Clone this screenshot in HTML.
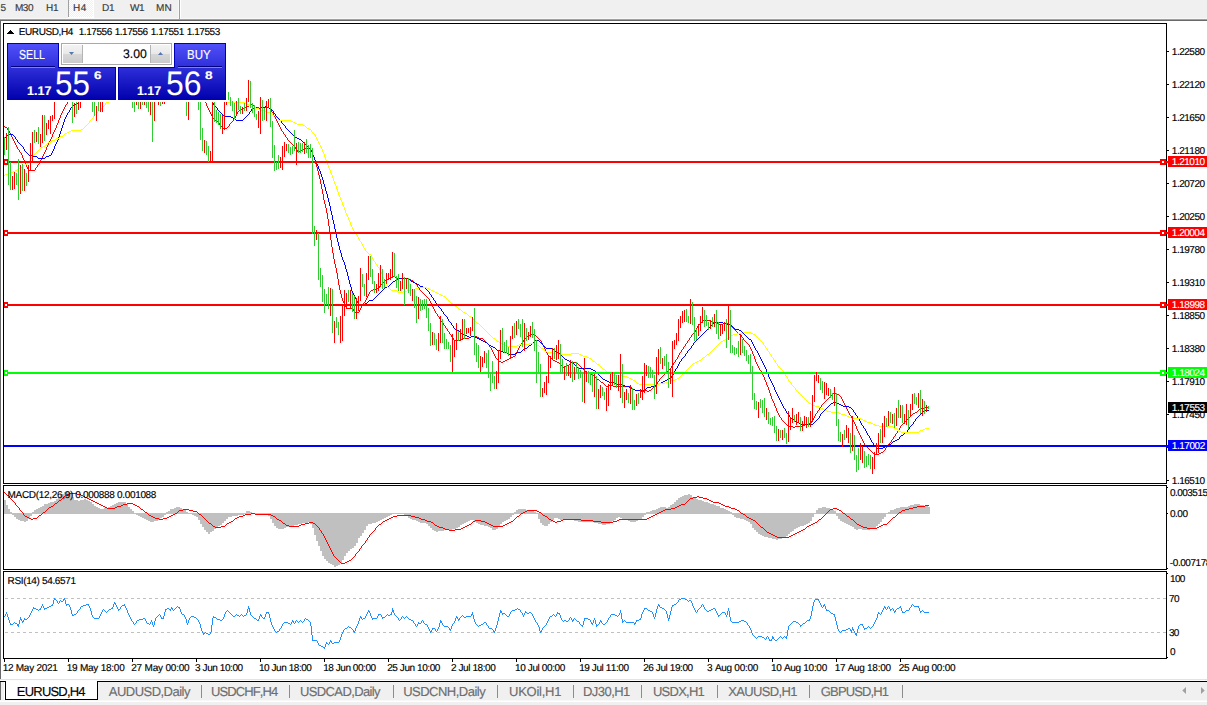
<!DOCTYPE html><html><head><meta charset="utf-8"><title>EURUSD,H4</title><style>
html,body{margin:0;padding:0;background:#fff;overflow:hidden;}
body{width:1207px;height:705px;overflow:hidden;position:relative;font-family:"Liberation Sans", sans-serif;text-rendering:geometricPrecision;font-kerning:none;}
.a{position:absolute;white-space:nowrap;}
.t{position:absolute;white-space:nowrap;transform-origin:0 0;}
</style></head><body>
<div class="a" style="left:0;top:0;width:1207px;height:18px;background:#f0f0f0;"></div>
<div class="a" style="left:0;top:18px;width:1207px;height:1px;background:#f8f8f8;"></div>
<div class="a" style="left:0;top:19px;width:1207px;height:1px;background:#a0a0a0;"></div>
<div class="a" style="left:0;top:20px;width:1207px;height:1px;background:#696969;"></div>
<div class="a" style="left:0;top:21px;width:1px;height:658px;background:#696969;"></div>
<div class="a" style="left:69px;top:0;width:24px;height:17px;background:repeating-conic-gradient(#ffffff 0% 25%,#f0f0f0 0% 50%) 0 0/2px 2px;"></div>
<div class="a" style="left:93px;top:0;width:1px;height:18px;background:#ffffff;"></div>
<div class="a" style="left:68px;top:17px;width:26px;height:1px;background:#ffffff;"></div>
<div class="a" style="left:68px;top:0;width:1px;height:17px;background:#a0a0a0;"></div>
<div class="a" style="left:178px;top:0;width:1px;height:18px;background:#f8f8f8;"></div>
<div class="a" style="left:179px;top:0;width:1px;height:19px;background:#a0a0a0;"></div>
<div class="a" style="left:180px;top:0;width:1px;height:18px;background:#ffffff;"></div>
<div class="t" style="left:0.40px;top:1.53px;font-size:10px;line-height:14px;color:#383838;-webkit-text-stroke:0.15px;letter-spacing:0.000px;">5</div>
<div class="t" style="left:14.88px;top:1.53px;font-size:10px;line-height:14px;color:#383838;-webkit-text-stroke:0.15px;letter-spacing:-0.371px;">M30</div>
<div class="t" style="left:45.98px;top:1.53px;font-size:10px;line-height:14px;color:#383838;-webkit-text-stroke:0.15px;letter-spacing:-0.075px;">H1</div>
<div class="t" style="left:73.08px;top:1.53px;font-size:10px;line-height:14px;color:#383838;-webkit-text-stroke:0.15px;letter-spacing:0.430px;">H4</div>
<div class="t" style="left:101.88px;top:1.53px;font-size:10px;line-height:14px;color:#383838;-webkit-text-stroke:0.15px;letter-spacing:0.025px;">D1</div>
<div class="t" style="left:129.96px;top:1.53px;font-size:10px;line-height:14px;color:#383838;-webkit-text-stroke:0.15px;letter-spacing:-0.468px;">W1</div>
<div class="t" style="left:156.08px;top:1.53px;font-size:10px;line-height:14px;color:#383838;-webkit-text-stroke:0.15px;letter-spacing:-0.016px;">MN</div>
<svg class="a" style="left:0;top:0;" width="1207" height="705" viewBox="0 0 1207 705" shape-rendering="crispEdges">
<path d="M157 80h10v1h-10zM149 81h8v1h-8zM167 81h16v1h-16zM141 82h8v1h-8zM183 82h8v1h-8zM133 83h8v1h-8zM191 83h1v1h-1zM123 84h10v1h-10zM192 84h1v1h-1zM107 85h16v1h-16zM193 85h1v1h-1zM95 86h12v1h-12zM194 86h1v1h-1zM85 87h10v1h-10zM195 87h1v1h-1zM80 88h5v1h-5zM196 88h1v1h-1zM79 89h1v1h-1zM197 89h1v1h-1zM77 90h2v1h-2zM198 90h1v1h-1zM76 91h1v1h-1zM199 91h1v1h-1zM75 92h1v1h-1zM200 92h1v1h-1zM73 93h2v1h-2zM201 93h1v2h-1zM72 94h1v1h-1zM71 95h1v1h-1zM202 95h1v2h-1zM70 96h1v2h-1zM203 97h1v2h-1zM69 98h1v2h-1zM204 99h1v2h-1zM68 100h1v2h-1zM205 101h1v2h-1zM67 102h1v2h-1zM206 103h1v3h-1zM66 104h1v1h-1zM250 104h3v1h-3zM249 105h1v1h-1zM253 105h1v1h-1zM65 105h1v2h-1zM247 106h2v1h-2zM254 106h1v1h-1zM207 106h1v2h-1zM245 107h2v1h-2zM255 107h4v1h-4zM261 107h8v1h-8zM64 107h1v2h-1zM243 108h2v1h-2zM259 108h2v1h-2zM269 108h1v1h-1zM208 108h1v2h-1zM241 109h2v1h-2zM270 109h1v1h-1zM63 109h1v2h-1zM239 110h2v1h-2zM209 110h1v2h-1zM271 110h1v2h-1zM238 111h1v1h-1zM62 111h1v2h-1zM272 112h1v1h-1zM210 112h1v2h-1zM237 112h1v2h-1zM61 113h1v2h-1zM273 113h1v2h-1zM211 114h1v2h-1zM236 114h1v2h-1zM274 115h1v2h-1zM60 115h1v3h-1zM212 116h1v2h-1zM235 116h1v2h-1zM275 117h1v2h-1zM213 118h1v1h-1zM234 118h1v1h-1zM59 118h1v2h-1zM214 119h1v1h-1zM233 119h1v2h-1zM276 119h1v2h-1zM215 120h2v1h-2zM58 120h1v3h-1zM217 121h1v1h-1zM232 121h1v1h-1zM277 121h1v2h-1zM218 122h1v1h-1zM231 122h1v1h-1zM230 123h1v1h-1zM57 123h1v2h-1zM219 123h1v2h-1zM278 123h1v2h-1zM229 124h1v2h-1zM220 125h1v1h-1zM279 125h1v2h-1zM56 125h1v3h-1zM4 126h1v1h-1zM221 126h1v1h-1zM228 126h1v1h-1zM5 127h2v1h-2zM222 127h1v1h-1zM227 127h1v1h-1zM280 127h1v2h-1zM223 128h4v1h-4zM7 128h1v2h-1zM55 128h1v2h-1zM281 129h1v2h-1zM8 130h1v1h-1zM54 130h1v2h-1zM282 131h1v1h-1zM9 131h1v2h-1zM53 132h1v2h-1zM283 132h1v2h-1zM10 133h1v2h-1zM284 134h1v1h-1zM52 134h1v3h-1zM11 135h1v2h-1zM285 135h1v2h-1zM286 137h1v1h-1zM12 137h1v2h-1zM51 137h1v2h-1zM287 138h1v2h-1zM13 139h1v2h-1zM50 139h1v2h-1zM288 140h1v1h-1zM289 141h1v1h-1zM14 141h1v2h-1zM49 141h1v2h-1zM290 142h1v1h-1zM291 143h1v1h-1zM15 143h1v2h-1zM48 143h1v2h-1zM292 144h1v1h-1zM293 145h1v1h-1zM16 145h1v2h-1zM47 145h1v2h-1zM294 146h1v1h-1zM17 147h1v2h-1zM295 147h1v2h-1zM46 147h1v3h-1zM305 148h5v1h-5zM310 148h1v2h-1zM18 149h1v1h-1zM296 149h1v1h-1zM303 149h2v1h-2zM301 150h2v1h-2zM19 150h1v2h-1zM45 150h1v2h-1zM297 150h1v2h-1zM311 150h1v2h-1zM299 151h2v1h-2zM20 152h1v1h-1zM298 152h1v1h-1zM44 152h1v2h-1zM312 152h1v3h-1zM21 153h1v2h-1zM43 154h1v2h-1zM313 155h1v2h-1zM22 155h1v3h-1zM42 156h1v2h-1zM314 157h1v3h-1zM23 158h1v2h-1zM41 158h1v2h-1zM40 160h1v2h-1zM24 160h1v3h-1zM315 160h1v4h-1zM39 162h1v2h-1zM25 163h1v2h-1zM38 164h1v1h-1zM316 164h1v3h-1zM26 165h1v2h-1zM37 165h1v2h-1zM36 167h1v1h-1zM27 167h1v2h-1zM317 167h1v4h-1zM35 168h1v2h-1zM28 169h1v1h-1zM29 170h6v1h-6zM318 171h1v4h-1zM319 175h1v4h-1zM320 179h1v5h-1zM321 184h1v5h-1zM322 189h1v5h-1zM323 194h1v6h-1zM324 200h1v4h-1zM325 204h1v4h-1zM326 208h1v5h-1zM327 213h1v6h-1zM328 219h1v7h-1zM329 226h1v7h-1zM330 233h1v7h-1zM331 240h1v7h-1zM332 247h1v6h-1zM333 253h1v6h-1zM334 259h1v5h-1zM335 264h1v4h-1zM336 268h1v5h-1zM337 273h1v6h-1zM392 276h3v1h-3zM391 277h1v1h-1zM395 277h2v1h-2zM389 278h2v1h-2zM397 278h12v1h-12zM387 279h2v1h-2zM409 279h2v1h-2zM338 279h1v6h-1zM385 280h2v1h-2zM411 280h2v1h-2zM384 281h1v1h-1zM413 281h1v1h-1zM383 282h1v1h-1zM414 282h1v1h-1zM382 283h1v1h-1zM415 283h1v1h-1zM381 284h1v1h-1zM416 284h1v1h-1zM380 285h1v1h-1zM417 285h1v2h-1zM339 285h1v5h-1zM379 286h1v2h-1zM418 287h1v1h-1zM377 288h2v1h-2zM419 288h1v2h-1zM373 289h4v1h-4zM371 290h2v1h-2zM420 290h1v1h-1zM340 290h1v4h-1zM370 291h1v1h-1zM421 291h1v1h-1zM422 292h1v1h-1zM369 292h1v2h-1zM423 293h1v1h-1zM424 294h1v1h-1zM368 294h1v2h-1zM341 294h1v4h-1zM425 295h1v1h-1zM426 296h1v1h-1zM367 296h1v2h-1zM427 297h1v1h-1zM428 298h1v1h-1zM366 298h1v2h-1zM342 298h1v3h-1zM429 299h1v2h-1zM365 300h1v2h-1zM343 301h1v2h-1zM430 301h1v2h-1zM364 302h1v1h-1zM344 303h1v2h-1zM363 303h1v2h-1zM431 303h1v2h-1zM362 305h1v1h-1zM345 305h1v2h-1zM432 305h1v2h-1zM361 306h1v2h-1zM346 307h1v2h-1zM433 307h1v2h-1zM347 308h6v1h-6zM360 308h1v2h-1zM353 309h1v2h-1zM434 309h1v2h-1zM359 310h1v2h-1zM354 311h1v2h-1zM435 311h1v2h-1zM355 312h4v1h-4zM436 313h1v1h-1zM437 314h1v2h-1zM438 316h1v1h-1zM439 317h1v2h-1zM440 319h1v2h-1zM703 320h8v1h-8zM441 321h1v1h-1zM702 321h1v1h-1zM711 321h2v1h-2zM442 322h1v1h-1zM701 322h1v1h-1zM713 322h4v1h-4zM700 323h1v1h-1zM717 323h1v1h-1zM723 323h6v1h-6zM443 323h1v2h-1zM699 324h1v1h-1zM718 324h5v1h-5zM729 324h2v1h-2zM444 325h1v1h-1zM698 325h1v1h-1zM731 325h1v2h-1zM445 326h1v2h-1zM697 326h1v2h-1zM732 327h1v1h-1zM446 328h1v1h-1zM733 328h1v1h-1zM696 328h1v2h-1zM734 329h1v1h-1zM447 329h1v2h-1zM735 330h1v1h-1zM695 330h1v2h-1zM448 331h1v1h-1zM736 331h1v1h-1zM694 332h1v1h-1zM737 332h1v1h-1zM449 332h1v2h-1zM693 333h1v1h-1zM738 333h1v1h-1zM450 334h1v1h-1zM531 334h4v1h-4zM692 334h1v1h-1zM739 334h2v1h-2zM529 335h2v1h-2zM535 335h1v1h-1zM451 335h1v2h-1zM691 335h1v2h-1zM741 335h1v2h-1zM471 336h6v1h-6zM527 336h2v1h-2zM536 336h1v1h-1zM452 337h1v1h-1zM469 337h2v1h-2zM477 337h2v1h-2zM526 337h1v1h-1zM537 337h1v1h-1zM690 337h1v1h-1zM742 337h1v1h-1zM462 338h7v1h-7zM479 338h4v1h-4zM525 338h1v1h-1zM538 338h1v1h-1zM453 338h1v2h-1zM689 338h1v2h-1zM743 338h1v2h-1zM461 339h1v1h-1zM483 339h1v1h-1zM524 339h1v1h-1zM539 339h1v1h-1zM454 340h7v1h-7zM484 340h1v1h-1zM540 340h1v1h-1zM688 340h1v1h-1zM744 340h1v1h-1zM523 340h1v2h-1zM485 341h1v1h-1zM745 341h1v1h-1zM541 341h1v2h-1zM687 341h1v2h-1zM486 342h1v1h-1zM522 342h1v1h-1zM746 342h1v1h-1zM487 343h1v1h-1zM686 343h1v1h-1zM747 343h1v1h-1zM521 343h1v2h-1zM542 343h1v2h-1zM488 344h1v1h-1zM748 344h1v1h-1zM685 344h1v2h-1zM520 345h1v1h-1zM489 345h1v2h-1zM543 345h1v2h-1zM749 345h1v2h-1zM684 346h1v1h-1zM519 346h1v2h-1zM490 347h1v1h-1zM544 347h1v2h-1zM683 347h1v2h-1zM750 347h1v2h-1zM491 348h1v2h-1zM518 348h1v2h-1zM682 349h1v1h-1zM545 349h1v2h-1zM751 349h1v2h-1zM492 350h1v2h-1zM517 350h1v2h-1zM681 350h1v2h-1zM546 351h1v2h-1zM752 351h1v3h-1zM680 352h1v1h-1zM493 352h1v2h-1zM516 352h1v2h-1zM547 353h1v2h-1zM679 353h1v2h-1zM494 354h1v2h-1zM515 354h1v2h-1zM753 354h1v2h-1zM548 355h1v1h-1zM678 355h1v2h-1zM513 356h2v1h-2zM549 356h1v1h-1zM495 356h1v2h-1zM754 356h1v3h-1zM511 357h2v1h-2zM550 357h1v1h-1zM677 357h1v2h-1zM496 358h1v1h-1zM509 358h2v1h-2zM551 358h1v1h-1zM497 359h1v1h-1zM507 359h2v1h-2zM552 359h1v1h-1zM676 359h1v1h-1zM755 359h1v3h-1zM498 360h1v1h-1zM505 360h2v1h-2zM553 360h2v1h-2zM675 360h1v2h-1zM499 361h2v1h-2zM503 361h2v1h-2zM555 361h2v1h-2zM501 362h2v1h-2zM557 362h2v1h-2zM571 362h6v1h-6zM674 362h1v1h-1zM756 362h1v2h-1zM559 363h1v1h-1zM570 363h1v1h-1zM577 363h1v1h-1zM673 363h1v2h-1zM560 364h1v1h-1zM569 364h1v1h-1zM578 364h1v1h-1zM757 364h1v2h-1zM561 365h1v1h-1zM567 365h2v1h-2zM579 365h1v1h-1zM672 365h1v1h-1zM562 366h1v1h-1zM565 366h2v1h-2zM580 366h1v1h-1zM671 366h1v2h-1zM758 366h1v2h-1zM563 367h2v1h-2zM581 367h1v1h-1zM582 368h1v1h-1zM670 368h1v1h-1zM759 368h1v2h-1zM583 369h1v1h-1zM669 369h1v1h-1zM584 370h1v1h-1zM668 370h1v1h-1zM760 370h1v1h-1zM585 371h2v1h-2zM667 371h1v1h-1zM761 371h1v2h-1zM587 372h2v1h-2zM666 372h1v1h-1zM589 373h2v1h-2zM665 373h1v1h-1zM762 373h1v2h-1zM591 374h2v1h-2zM664 374h1v1h-1zM593 375h1v1h-1zM663 375h1v1h-1zM763 375h1v2h-1zM594 376h1v1h-1zM662 376h1v1h-1zM595 377h1v1h-1zM661 377h1v1h-1zM764 377h1v3h-1zM596 378h1v1h-1zM660 378h1v1h-1zM597 379h2v1h-2zM659 379h1v2h-1zM599 380h1v1h-1zM765 380h1v2h-1zM600 381h1v1h-1zM658 381h1v1h-1zM601 382h2v1h-2zM657 382h1v2h-1zM766 382h1v3h-1zM603 383h1v1h-1zM604 384h1v1h-1zM656 384h1v1h-1zM605 385h1v1h-1zM609 385h4v1h-4zM655 385h1v2h-1zM767 385h1v2h-1zM606 386h3v1h-3zM613 386h18v1h-18zM631 387h1v1h-1zM653 387h2v1h-2zM768 387h1v3h-1zM632 388h1v1h-1zM652 388h1v1h-1zM633 389h2v1h-2zM651 389h1v1h-1zM635 390h6v1h-6zM645 390h2v1h-2zM649 390h2v1h-2zM769 390h1v3h-1zM641 391h4v1h-4zM647 391h2v1h-2zM833 393h4v1h-4zM770 393h1v3h-1zM832 394h1v1h-1zM837 394h2v1h-2zM831 395h1v1h-1zM839 395h1v1h-1zM830 396h1v1h-1zM840 396h1v1h-1zM771 396h1v3h-1zM829 397h1v1h-1zM841 397h1v2h-1zM828 398h1v1h-1zM827 399h1v1h-1zM772 399h1v2h-1zM842 399h1v2h-1zM826 400h1v1h-1zM825 401h1v1h-1zM773 401h1v2h-1zM843 401h1v2h-1zM824 402h1v1h-1zM823 403h1v1h-1zM844 403h1v2h-1zM774 403h1v3h-1zM822 404h1v1h-1zM821 405h1v2h-1zM845 405h1v2h-1zM926 406h1v1h-1zM775 406h1v2h-1zM820 407h1v1h-1zM925 407h1v1h-1zM927 407h1v1h-1zM846 407h1v2h-1zM921 408h4v1h-4zM928 408h1v1h-1zM819 408h1v2h-1zM776 408h1v3h-1zM919 409h2v1h-2zM847 409h1v2h-1zM818 410h1v1h-1zM918 410h1v1h-1zM917 411h1v1h-1zM777 411h1v2h-1zM817 411h1v2h-1zM848 411h1v2h-1zM915 412h2v1h-2zM816 413h1v1h-1zM913 413h2v1h-2zM778 413h1v2h-1zM849 413h1v2h-1zM912 414h1v1h-1zM815 414h1v2h-1zM850 415h1v1h-1zM911 415h1v1h-1zM779 415h1v2h-1zM910 416h1v1h-1zM814 416h1v2h-1zM851 416h1v2h-1zM780 417h1v1h-1zM909 417h1v1h-1zM908 418h1v1h-1zM781 418h1v2h-1zM813 418h1v2h-1zM852 418h1v2h-1zM907 419h1v1h-1zM782 420h1v1h-1zM812 420h1v1h-1zM906 420h1v1h-1zM853 420h1v2h-1zM783 421h1v1h-1zM905 421h1v1h-1zM811 421h1v2h-1zM784 422h1v1h-1zM904 422h1v1h-1zM854 422h1v2h-1zM785 423h1v1h-1zM809 423h2v1h-2zM903 423h1v1h-1zM786 424h1v1h-1zM805 424h4v1h-4zM902 424h1v1h-1zM855 424h1v2h-1zM787 425h2v1h-2zM803 425h2v1h-2zM901 425h1v1h-1zM789 426h4v1h-4zM795 426h8v1h-8zM900 426h1v2h-1zM856 426h1v3h-1zM793 427h2v1h-2zM899 428h1v2h-1zM857 429h1v2h-1zM898 430h1v1h-1zM858 431h1v2h-1zM897 431h1v2h-1zM896 433h1v1h-1zM859 433h1v2h-1zM895 434h1v2h-1zM860 435h1v2h-1zM894 436h1v1h-1zM861 437h1v2h-1zM893 437h1v2h-1zM892 439h1v1h-1zM862 439h1v2h-1zM891 440h1v2h-1zM863 441h1v2h-1zM890 442h1v1h-1zM889 443h1v1h-1zM864 443h1v2h-1zM888 444h1v1h-1zM865 445h1v1h-1zM887 445h1v2h-1zM866 446h1v1h-1zM867 447h1v1h-1zM886 447h1v1h-1zM868 448h1v1h-1zM885 448h1v2h-1zM869 449h1v1h-1zM870 450h1v1h-1zM884 450h1v1h-1zM871 451h1v1h-1zM883 451h1v1h-1zM872 452h1v1h-1zM881 452h2v1h-2zM873 453h2v1h-2zM879 453h2v1h-2zM875 454h4v1h-4z" fill="#ff0000"/>
<path d="M167 82h10v1h-10zM159 83h8v1h-8zM177 83h12v1h-12zM151 84h8v1h-8zM189 84h6v1h-6zM143 85h8v1h-8zM195 85h2v1h-2zM133 86h10v1h-10zM197 86h2v1h-2zM117 87h16v1h-16zM199 87h1v1h-1zM109 88h8v1h-8zM200 88h1v1h-1zM105 89h4v1h-4zM201 89h1v1h-1zM103 90h2v1h-2zM202 90h1v1h-1zM99 91h4v1h-4zM203 91h2v1h-2zM95 92h4v1h-4zM205 92h1v1h-1zM93 93h2v1h-2zM206 93h1v1h-1zM89 94h4v1h-4zM207 94h1v2h-1zM87 95h2v1h-2zM85 96h2v1h-2zM208 96h1v1h-1zM84 97h1v1h-1zM209 97h1v2h-1zM83 98h1v1h-1zM81 99h2v1h-2zM210 99h1v1h-1zM80 100h1v1h-1zM211 100h1v2h-1zM79 101h1v1h-1zM78 102h1v1h-1zM212 102h1v1h-1zM77 103h1v1h-1zM213 103h1v2h-1zM75 104h2v1h-2zM73 105h2v1h-2zM214 105h1v1h-1zM72 106h1v1h-1zM215 106h1v1h-1zM265 106h2v1h-2zM71 107h1v1h-1zM216 107h1v1h-1zM255 107h2v1h-2zM261 107h4v1h-4zM267 107h2v1h-2zM252 108h3v1h-3zM257 108h4v1h-4zM269 108h2v1h-2zM70 108h1v2h-1zM217 108h1v2h-1zM271 109h1v1h-1zM251 109h1v2h-1zM218 110h1v1h-1zM272 110h1v1h-1zM69 110h1v2h-1zM219 111h1v1h-1zM250 111h1v1h-1zM273 111h1v2h-1zM68 112h1v1h-1zM220 112h1v1h-1zM249 112h1v2h-1zM221 113h1v1h-1zM274 113h1v1h-1zM67 113h1v2h-1zM222 114h1v1h-1zM248 114h1v1h-1zM275 114h1v2h-1zM223 115h2v1h-2zM247 115h1v1h-1zM66 115h1v2h-1zM225 116h6v1h-6zM246 116h1v1h-1zM276 116h1v1h-1zM231 117h2v1h-2zM245 117h1v1h-1zM277 117h1v1h-1zM65 117h1v2h-1zM233 118h2v1h-2zM244 118h1v1h-1zM278 118h1v1h-1zM235 119h1v1h-1zM243 119h1v1h-1zM279 119h1v1h-1zM64 119h1v3h-1zM236 120h7v1h-7zM280 120h1v1h-1zM281 121h1v2h-1zM63 122h1v3h-1zM282 123h1v1h-1zM283 124h1v1h-1zM284 125h1v1h-1zM62 125h1v3h-1zM285 126h1v2h-1zM286 128h1v1h-1zM61 128h1v3h-1zM287 129h1v1h-1zM288 130h1v1h-1zM289 131h1v1h-1zM60 131h1v3h-1zM290 132h1v1h-1zM291 133h1v1h-1zM9 134h4v1h-4zM292 134h1v1h-1zM59 134h1v3h-1zM7 135h2v1h-2zM13 135h1v1h-1zM293 135h1v1h-1zM6 136h1v1h-1zM14 136h1v1h-1zM294 136h1v1h-1zM5 137h1v1h-1zM295 137h2v1h-2zM15 137h1v2h-1zM58 137h1v3h-1zM4 138h1v1h-1zM297 138h2v1h-2zM16 139h1v1h-1zM299 139h2v1h-2zM301 140h1v1h-1zM17 140h1v2h-1zM57 140h1v2h-1zM302 141h1v1h-1zM18 142h1v1h-1zM303 142h1v1h-1zM56 142h1v2h-1zM19 143h1v1h-1zM304 143h1v1h-1zM20 144h1v1h-1zM305 144h1v1h-1zM55 144h1v2h-1zM21 145h1v1h-1zM306 145h1v1h-1zM22 146h1v1h-1zM307 146h1v1h-1zM54 146h1v3h-1zM308 147h1v1h-1zM23 147h1v2h-1zM309 148h1v1h-1zM310 149h1v1h-1zM24 149h1v2h-1zM53 149h1v2h-1zM311 150h1v2h-1zM25 151h1v1h-1zM52 151h1v2h-1zM26 152h1v1h-1zM312 152h1v3h-1zM27 153h1v1h-1zM51 153h1v2h-1zM28 154h1v1h-1zM29 155h4v1h-4zM49 155h2v1h-2zM313 155h1v2h-1zM33 156h4v1h-4zM46 156h3v1h-3zM37 157h1v1h-1zM45 157h1v1h-1zM314 157h1v3h-1zM38 158h7v1h-7zM315 160h1v2h-1zM316 162h1v2h-1zM317 164h1v2h-1zM318 166h1v3h-1zM319 169h1v2h-1zM320 171h1v3h-1zM321 174h1v3h-1zM322 177h1v3h-1zM323 180h1v4h-1zM324 184h1v3h-1zM325 187h1v4h-1zM326 191h1v3h-1zM327 194h1v4h-1zM328 198h1v4h-1zM329 202h1v4h-1zM330 206h1v5h-1zM331 211h1v4h-1zM332 215h1v5h-1zM333 220h1v4h-1zM334 224h1v5h-1zM335 229h1v5h-1zM336 234h1v4h-1zM337 238h1v4h-1zM338 242h1v4h-1zM339 246h1v4h-1zM340 250h1v3h-1zM341 253h1v4h-1zM342 257h1v3h-1zM343 260h1v2h-1zM344 262h1v3h-1zM345 265h1v4h-1zM346 269h1v3h-1zM347 272h1v4h-1zM348 276h1v4h-1zM398 278h11v1h-11zM397 279h1v1h-1zM409 279h1v1h-1zM395 280h2v1h-2zM410 280h1v1h-1zM349 280h1v4h-1zM393 281h2v1h-2zM411 281h2v1h-2zM392 282h1v1h-1zM413 282h2v1h-2zM391 283h1v1h-1zM415 283h2v1h-2zM390 284h1v1h-1zM417 284h2v1h-2zM350 284h1v3h-1zM389 285h1v1h-1zM419 285h1v1h-1zM387 286h2v1h-2zM420 286h3v1h-3zM385 287h2v1h-2zM423 287h2v1h-2zM351 287h1v4h-1zM384 288h1v1h-1zM425 288h1v1h-1zM383 289h1v1h-1zM426 289h1v1h-1zM382 290h1v1h-1zM427 290h1v1h-1zM381 291h1v1h-1zM428 291h1v1h-1zM352 291h1v2h-1zM380 292h1v1h-1zM429 292h1v2h-1zM379 293h1v1h-1zM353 293h1v2h-1zM378 294h1v1h-1zM430 294h1v1h-1zM377 295h1v1h-1zM354 295h1v2h-1zM431 295h1v2h-1zM376 296h1v1h-1zM375 297h1v1h-1zM432 297h1v1h-1zM355 297h1v2h-1zM374 298h1v1h-1zM433 298h1v2h-1zM373 299h1v1h-1zM356 299h1v2h-1zM369 300h4v1h-4zM434 300h1v1h-1zM368 301h1v1h-1zM357 301h1v2h-1zM435 301h1v2h-1zM367 302h1v1h-1zM365 303h2v1h-2zM358 303h1v2h-1zM436 303h1v2h-1zM359 304h6v1h-6zM437 305h1v1h-1zM438 306h1v1h-1zM439 307h1v1h-1zM440 308h1v1h-1zM441 309h1v2h-1zM442 311h1v1h-1zM443 312h1v2h-1zM444 314h1v1h-1zM445 315h1v1h-1zM446 316h1v1h-1zM447 317h1v2h-1zM448 319h1v2h-1zM449 321h1v1h-1zM450 322h1v1h-1zM714 322h9v1h-9zM713 323h1v1h-1zM723 323h4v1h-4zM451 323h1v2h-1zM712 324h1v1h-1zM727 324h4v1h-4zM452 325h1v1h-1zM711 325h1v1h-1zM731 325h1v1h-1zM710 326h1v1h-1zM732 326h1v1h-1zM453 326h1v2h-1zM709 327h1v1h-1zM733 327h1v1h-1zM454 328h1v1h-1zM708 328h1v1h-1zM734 328h1v1h-1zM455 329h2v1h-2zM707 329h1v1h-1zM735 329h4v1h-4zM457 330h2v1h-2zM706 330h1v1h-1zM739 330h2v1h-2zM459 331h1v1h-1zM705 331h1v1h-1zM741 331h1v1h-1zM460 332h1v1h-1zM704 332h1v1h-1zM742 332h1v1h-1zM461 333h2v1h-2zM703 333h1v1h-1zM743 333h1v1h-1zM463 334h2v1h-2zM702 334h1v1h-1zM744 334h1v1h-1zM465 335h2v1h-2zM701 335h1v1h-1zM745 335h1v1h-1zM467 336h2v1h-2zM471 336h4v1h-4zM700 336h1v1h-1zM746 336h1v1h-1zM469 337h2v1h-2zM475 337h2v1h-2zM699 337h1v1h-1zM747 337h1v1h-1zM477 338h2v1h-2zM698 338h1v1h-1zM748 338h1v1h-1zM479 339h2v1h-2zM697 339h1v1h-1zM749 339h2v1h-2zM481 340h2v1h-2zM535 340h4v1h-4zM696 340h1v1h-1zM751 340h1v2h-1zM483 341h2v1h-2zM534 341h1v1h-1zM539 341h1v1h-1zM695 341h1v1h-1zM485 342h2v1h-2zM533 342h1v1h-1zM540 342h1v1h-1zM694 342h1v1h-1zM752 342h1v2h-1zM487 343h1v1h-1zM532 343h1v1h-1zM541 343h1v1h-1zM693 343h1v2h-1zM488 344h1v1h-1zM531 344h1v1h-1zM542 344h1v1h-1zM753 344h1v2h-1zM489 345h2v1h-2zM529 345h2v1h-2zM543 345h1v1h-1zM692 345h1v1h-1zM491 346h2v1h-2zM528 346h1v1h-1zM544 346h1v1h-1zM691 346h1v2h-1zM754 346h1v2h-1zM493 347h2v1h-2zM527 347h1v1h-1zM545 347h1v1h-1zM495 348h1v1h-1zM525 348h2v1h-2zM546 348h7v1h-7zM690 348h1v1h-1zM755 348h1v2h-1zM496 349h1v1h-1zM523 349h2v1h-2zM553 349h1v1h-1zM689 349h1v1h-1zM497 350h4v1h-4zM522 350h1v1h-1zM554 350h1v1h-1zM688 350h1v1h-1zM756 350h1v1h-1zM501 351h2v1h-2zM521 351h1v1h-1zM555 351h2v1h-2zM687 351h1v2h-1zM757 351h1v2h-1zM503 352h4v1h-4zM517 352h4v1h-4zM557 352h2v1h-2zM507 353h1v1h-1zM515 353h2v1h-2zM559 353h1v1h-1zM686 353h1v1h-1zM758 353h1v2h-1zM508 354h7v1h-7zM560 354h1v1h-1zM685 354h1v2h-1zM561 355h1v1h-1zM759 355h1v2h-1zM562 356h1v1h-1zM684 356h1v1h-1zM563 357h1v1h-1zM683 357h1v1h-1zM760 357h1v2h-1zM564 358h1v1h-1zM682 358h1v1h-1zM565 359h2v1h-2zM681 359h1v2h-1zM761 359h1v2h-1zM567 360h2v1h-2zM569 361h2v1h-2zM680 361h1v1h-1zM762 361h1v2h-1zM571 362h2v1h-2zM679 362h1v2h-1zM573 363h1v1h-1zM763 363h1v2h-1zM574 364h1v1h-1zM678 364h1v2h-1zM575 365h1v1h-1zM764 365h1v2h-1zM576 366h1v1h-1zM677 366h1v2h-1zM577 367h2v1h-2zM765 367h1v2h-1zM579 368h12v1h-12zM676 368h1v1h-1zM591 369h2v1h-2zM675 369h1v2h-1zM766 369h1v3h-1zM593 370h2v1h-2zM595 371h1v1h-1zM674 371h1v2h-1zM596 372h1v1h-1zM767 372h1v2h-1zM597 373h1v1h-1zM673 373h1v2h-1zM598 374h1v1h-1zM768 374h1v3h-1zM599 375h1v1h-1zM672 375h1v1h-1zM600 376h1v1h-1zM671 376h1v2h-1zM601 377h1v1h-1zM769 377h1v2h-1zM602 378h1v1h-1zM669 378h2v1h-2zM603 379h2v1h-2zM667 379h2v1h-2zM770 379h1v2h-1zM605 380h2v1h-2zM665 380h2v1h-2zM607 381h2v1h-2zM663 381h2v1h-2zM771 381h1v2h-1zM609 382h6v1h-6zM661 382h2v1h-2zM615 383h2v1h-2zM659 383h2v1h-2zM772 383h1v2h-1zM617 384h6v1h-6zM657 384h2v1h-2zM623 385h2v1h-2zM655 385h2v1h-2zM773 385h1v2h-1zM625 386h4v1h-4zM651 386h4v1h-4zM629 387h2v1h-2zM647 387h4v1h-4zM774 387h1v3h-1zM631 388h2v1h-2zM646 388h1v1h-1zM633 389h2v1h-2zM645 389h1v1h-1zM635 390h10v1h-10zM775 390h1v2h-1zM776 392h1v2h-1zM777 394h1v2h-1zM778 396h1v2h-1zM779 398h1v2h-1zM780 400h1v2h-1zM833 402h4v1h-4zM781 402h1v2h-1zM831 403h2v1h-2zM837 403h2v1h-2zM830 404h1v1h-1zM839 404h2v1h-2zM782 404h1v2h-1zM829 405h1v1h-1zM841 405h2v1h-2zM828 406h1v1h-1zM843 406h6v1h-6zM783 406h1v2h-1zM827 407h1v1h-1zM849 407h2v1h-2zM784 408h1v1h-1zM826 408h1v1h-1zM851 408h1v1h-1zM825 409h1v1h-1zM852 409h1v1h-1zM785 409h1v2h-1zM824 410h1v1h-1zM925 410h4v1h-4zM853 410h1v2h-1zM823 411h1v1h-1zM923 411h2v1h-2zM786 411h1v2h-1zM822 412h1v1h-1zM854 412h1v1h-1zM922 412h1v1h-1zM787 413h1v1h-1zM821 413h1v1h-1zM921 413h1v1h-1zM855 413h1v2h-1zM788 414h1v1h-1zM920 414h1v1h-1zM820 414h1v2h-1zM856 415h1v1h-1zM919 415h1v1h-1zM789 415h1v2h-1zM918 416h1v1h-1zM819 416h1v2h-1zM857 416h1v2h-1zM790 417h1v1h-1zM917 417h1v1h-1zM791 418h2v1h-2zM818 418h1v1h-1zM858 418h1v1h-1zM916 418h1v1h-1zM793 419h1v1h-1zM817 419h1v1h-1zM859 419h1v2h-1zM915 419h1v2h-1zM794 420h1v1h-1zM816 420h1v1h-1zM795 421h2v1h-2zM815 421h1v1h-1zM914 421h1v1h-1zM860 421h1v2h-1zM797 422h2v1h-2zM814 422h1v1h-1zM913 422h1v2h-1zM799 423h2v1h-2zM813 423h1v1h-1zM861 423h1v2h-1zM801 424h12v1h-12zM912 424h1v1h-1zM862 425h1v1h-1zM911 425h1v1h-1zM910 426h1v1h-1zM863 426h1v2h-1zM909 427h1v2h-1zM864 428h1v1h-1zM908 429h1v1h-1zM865 429h1v2h-1zM907 430h1v2h-1zM866 431h1v2h-1zM905 432h2v1h-2zM904 433h1v1h-1zM867 433h1v2h-1zM903 434h1v1h-1zM868 435h1v1h-1zM901 435h2v1h-2zM900 436h1v1h-1zM869 436h1v2h-1zM899 437h1v2h-1zM870 438h1v2h-1zM897 439h2v1h-2zM895 440h2v1h-2zM871 440h1v2h-1zM893 441h2v1h-2zM872 442h1v1h-1zM892 442h1v1h-1zM891 443h1v1h-1zM873 443h1v2h-1zM889 444h2v1h-2zM874 445h1v1h-1zM887 445h2v1h-2zM875 446h1v1h-1zM885 446h2v1h-2zM876 447h1v1h-1zM883 447h2v1h-2zM877 448h6v1h-6z" fill="#0000ff"/>
<path d="M147 92h36v1h-36zM139 93h8v1h-8zM183 93h8v1h-8zM131 94h8v1h-8zM191 94h8v1h-8zM123 95h8v1h-8zM199 95h8v1h-8zM119 96h4v1h-4zM207 96h4v1h-4zM117 97h2v1h-2zM211 97h4v1h-4zM115 98h2v1h-2zM215 98h4v1h-4zM113 99h2v1h-2zM219 99h2v1h-2zM111 100h2v1h-2zM221 100h4v1h-4zM109 101h2v1h-2zM225 101h2v1h-2zM106 102h3v1h-3zM227 102h18v1h-18zM245 103h2v1h-2zM105 103h1v2h-1zM247 104h2v1h-2zM104 105h1v1h-1zM249 105h2v1h-2zM103 106h1v1h-1zM251 106h4v1h-4zM102 107h1v1h-1zM255 107h1v1h-1zM256 108h3v1h-3zM101 108h1v2h-1zM259 109h2v1h-2zM99 110h2v1h-2zM261 110h4v1h-4zM98 111h1v1h-1zM265 111h2v1h-2zM97 112h1v1h-1zM267 112h4v1h-4zM96 113h1v1h-1zM271 113h1v1h-1zM95 114h1v1h-1zM272 114h1v1h-1zM94 115h1v1h-1zM273 115h2v1h-2zM275 116h1v1h-1zM93 116h1v2h-1zM276 117h1v1h-1zM92 118h1v1h-1zM277 118h1v1h-1zM91 119h1v1h-1zM278 119h1v1h-1zM90 120h1v1h-1zM279 120h12v1h-12zM291 121h2v1h-2zM89 121h1v2h-1zM293 122h2v1h-2zM88 123h1v1h-1zM295 123h2v1h-2zM87 124h1v1h-1zM297 124h6v1h-6zM86 125h1v1h-1zM303 125h2v1h-2zM85 126h1v1h-1zM305 126h1v1h-1zM84 127h1v1h-1zM306 127h1v1h-1zM83 128h1v1h-1zM307 128h2v1h-2zM81 129h2v1h-2zM309 129h2v1h-2zM71 130h10v1h-10zM311 130h1v2h-1zM69 131h2v1h-2zM67 132h2v1h-2zM312 132h1v1h-1zM65 133h2v1h-2zM313 133h1v1h-1zM64 134h1v1h-1zM314 134h1v1h-1zM63 135h1v1h-1zM315 135h1v2h-1zM60 136h3v1h-3zM59 137h1v1h-1zM316 137h1v2h-1zM56 138h3v1h-3zM55 139h1v1h-1zM317 139h1v2h-1zM52 140h3v1h-3zM51 141h1v1h-1zM318 141h1v2h-1zM48 142h3v1h-3zM47 143h1v1h-1zM319 143h1v2h-1zM46 144h1v1h-1zM45 145h1v1h-1zM320 145h1v2h-1zM43 146h2v1h-2zM41 147h2v1h-2zM321 147h1v2h-1zM40 148h1v1h-1zM39 149h1v1h-1zM322 149h1v3h-1zM38 150h1v1h-1zM37 151h1v1h-1zM36 152h1v1h-1zM323 152h1v2h-1zM35 153h1v1h-1zM34 154h1v1h-1zM324 154h1v3h-1zM33 155h1v1h-1zM32 156h1v1h-1zM31 157h1v2h-1zM325 157h1v3h-1zM30 159h1v1h-1zM29 160h1v2h-1zM326 160h1v3h-1zM28 162h1v1h-1zM27 163h1v1h-1zM327 163h1v2h-1zM25 164h2v1h-2zM23 165h2v1h-2zM328 165h1v3h-1zM22 166h1v1h-1zM21 167h1v1h-1zM19 168h2v1h-2zM329 168h1v2h-1zM17 169h2v1h-2zM15 170h2v1h-2zM330 170h1v3h-1zM13 171h2v1h-2zM11 172h2v1h-2zM9 173h2v1h-2zM331 173h1v2h-1zM5 174h4v1h-4zM4 175h1v1h-1zM332 175h1v3h-1zM333 178h1v3h-1zM334 181h1v3h-1zM335 184h1v2h-1zM336 186h1v3h-1zM337 189h1v3h-1zM338 192h1v3h-1zM339 195h1v2h-1zM340 197h1v3h-1zM341 200h1v2h-1zM342 202h1v3h-1zM343 205h1v2h-1zM344 207h1v3h-1zM345 210h1v3h-1zM346 213h1v2h-1zM347 215h1v2h-1zM348 217h1v3h-1zM349 220h1v2h-1zM350 222h1v3h-1zM351 225h1v2h-1zM352 227h1v2h-1zM353 229h1v2h-1zM354 231h1v2h-1zM355 233h1v1h-1zM356 234h1v1h-1zM357 235h1v2h-1zM358 237h1v2h-1zM359 239h1v2h-1zM360 241h1v1h-1zM361 242h1v2h-1zM362 244h1v2h-1zM363 246h1v2h-1zM364 248h1v1h-1zM365 249h1v2h-1zM366 251h1v1h-1zM367 252h1v1h-1zM368 253h1v1h-1zM369 254h2v1h-2zM371 255h1v2h-1zM372 257h1v2h-1zM373 259h1v2h-1zM374 261h1v1h-1zM375 262h1v2h-1zM376 264h1v1h-1zM377 265h1v2h-1zM378 267h1v1h-1zM379 268h1v2h-1zM380 270h1v2h-1zM381 272h1v2h-1zM382 274h1v3h-1zM383 277h1v2h-1zM384 279h1v2h-1zM385 281h1v2h-1zM386 283h1v2h-1zM387 285h1v2h-1zM388 287h1v1h-1zM419 287h8v1h-8zM389 288h1v1h-1zM415 288h4v1h-4zM427 288h2v1h-2zM390 289h1v1h-1zM413 289h2v1h-2zM429 289h2v1h-2zM391 290h6v1h-6zM407 290h6v1h-6zM431 290h2v1h-2zM397 291h1v1h-1zM403 291h4v1h-4zM433 291h2v1h-2zM398 292h5v1h-5zM435 292h2v1h-2zM437 293h2v1h-2zM439 294h2v1h-2zM441 295h2v1h-2zM443 296h2v1h-2zM445 297h1v1h-1zM446 298h1v1h-1zM447 299h1v1h-1zM448 300h1v1h-1zM449 301h1v1h-1zM450 302h1v1h-1zM451 303h2v1h-2zM453 304h1v1h-1zM454 305h1v1h-1zM455 306h2v1h-2zM457 307h1v1h-1zM458 308h1v1h-1zM459 309h2v1h-2zM461 310h1v1h-1zM462 311h1v1h-1zM463 312h2v1h-2zM465 313h2v1h-2zM467 314h1v1h-1zM468 315h1v1h-1zM469 316h2v1h-2zM471 317h1v1h-1zM472 318h1v1h-1zM473 319h1v1h-1zM474 320h1v1h-1zM475 321h1v1h-1zM476 322h1v1h-1zM477 323h2v1h-2zM479 324h1v1h-1zM480 325h1v1h-1zM481 326h1v1h-1zM482 327h1v1h-1zM483 328h1v1h-1zM484 329h1v1h-1zM485 330h1v1h-1zM486 331h1v1h-1zM487 332h1v1h-1zM743 332h8v1h-8zM488 333h1v1h-1zM737 333h6v1h-6zM751 333h2v1h-2zM489 334h1v1h-1zM733 334h4v1h-4zM753 334h2v1h-2zM490 335h1v1h-1zM731 335h2v1h-2zM755 335h1v1h-1zM491 336h1v1h-1zM730 336h1v1h-1zM756 336h1v1h-1zM492 337h1v1h-1zM729 337h1v1h-1zM757 337h1v1h-1zM493 338h2v1h-2zM727 338h2v1h-2zM758 338h1v1h-1zM495 339h1v1h-1zM725 339h2v1h-2zM759 339h1v1h-1zM496 340h1v1h-1zM723 340h2v1h-2zM760 340h1v1h-1zM497 341h2v1h-2zM721 341h2v1h-2zM761 341h1v1h-1zM499 342h2v1h-2zM720 342h1v1h-1zM762 342h1v1h-1zM501 343h2v1h-2zM529 343h6v1h-6zM719 343h1v1h-1zM763 343h1v2h-1zM503 344h2v1h-2zM519 344h10v1h-10zM535 344h2v1h-2zM718 344h1v1h-1zM505 345h2v1h-2zM517 345h2v1h-2zM537 345h2v1h-2zM717 345h1v1h-1zM764 345h1v1h-1zM507 346h10v1h-10zM539 346h1v1h-1zM716 346h1v1h-1zM765 346h1v2h-1zM540 347h1v1h-1zM715 347h1v1h-1zM541 348h2v1h-2zM714 348h1v1h-1zM766 348h1v1h-1zM543 349h1v1h-1zM713 349h1v1h-1zM767 349h1v2h-1zM544 350h1v1h-1zM712 350h1v1h-1zM545 351h2v1h-2zM711 351h1v1h-1zM768 351h1v1h-1zM547 352h6v1h-6zM710 352h1v1h-1zM769 352h1v2h-1zM553 353h6v1h-6zM571 353h8v1h-8zM709 353h1v1h-1zM559 354h12v1h-12zM579 354h2v1h-2zM707 354h2v1h-2zM770 354h1v1h-1zM581 355h2v1h-2zM706 355h1v1h-1zM771 355h1v2h-1zM583 356h4v1h-4zM705 356h1v1h-1zM587 357h2v1h-2zM703 357h2v1h-2zM772 357h1v1h-1zM589 358h2v1h-2zM702 358h1v1h-1zM773 358h1v2h-1zM591 359h1v1h-1zM701 359h1v1h-1zM592 360h1v1h-1zM699 360h2v1h-2zM774 360h1v1h-1zM593 361h2v1h-2zM697 361h2v1h-2zM775 361h1v2h-1zM595 362h1v1h-1zM695 362h2v1h-2zM596 363h1v1h-1zM693 363h2v1h-2zM776 363h1v1h-1zM597 364h2v1h-2zM692 364h1v1h-1zM777 364h1v2h-1zM599 365h1v1h-1zM691 365h1v1h-1zM600 366h1v1h-1zM690 366h1v1h-1zM778 366h1v1h-1zM601 367h1v1h-1zM689 367h1v1h-1zM779 367h1v1h-1zM602 368h1v1h-1zM688 368h1v1h-1zM780 368h1v1h-1zM603 369h2v1h-2zM687 369h1v1h-1zM781 369h1v1h-1zM605 370h1v1h-1zM686 370h1v1h-1zM782 370h1v1h-1zM606 371h1v1h-1zM685 371h1v1h-1zM783 371h1v2h-1zM607 372h2v1h-2zM684 372h1v1h-1zM609 373h1v1h-1zM683 373h1v1h-1zM784 373h1v1h-1zM610 374h3v1h-3zM682 374h1v1h-1zM785 374h1v2h-1zM613 375h10v1h-10zM681 375h1v1h-1zM623 376h4v1h-4zM680 376h1v1h-1zM786 376h1v1h-1zM627 377h2v1h-2zM679 377h1v1h-1zM787 377h1v2h-1zM629 378h2v1h-2zM677 378h2v1h-2zM631 379h2v1h-2zM675 379h2v1h-2zM788 379h1v2h-1zM633 380h2v1h-2zM671 380h4v1h-4zM635 381h1v1h-1zM669 381h2v1h-2zM789 381h1v1h-1zM636 382h1v1h-1zM665 382h4v1h-4zM790 382h1v1h-1zM637 383h2v1h-2zM659 383h6v1h-6zM791 383h1v2h-1zM639 384h20v1h-20zM792 385h1v1h-1zM793 386h1v1h-1zM794 387h1v1h-1zM795 388h1v2h-1zM796 390h1v1h-1zM797 391h1v1h-1zM798 392h1v1h-1zM799 393h1v1h-1zM800 394h1v1h-1zM801 395h1v1h-1zM802 396h1v1h-1zM803 397h1v1h-1zM804 398h1v1h-1zM805 399h1v1h-1zM806 400h1v1h-1zM807 401h1v1h-1zM808 402h1v1h-1zM809 403h2v1h-2zM811 404h2v1h-2zM813 405h2v1h-2zM815 406h4v1h-4zM819 407h1v1h-1zM820 408h3v1h-3zM823 409h2v1h-2zM825 410h2v1h-2zM827 411h4v1h-4zM831 412h8v1h-8zM839 413h2v1h-2zM841 414h4v1h-4zM845 415h2v1h-2zM847 416h2v1h-2zM849 417h2v1h-2zM851 418h10v1h-10zM861 419h2v1h-2zM863 420h2v1h-2zM865 421h2v1h-2zM867 422h4v1h-4zM871 423h2v1h-2zM873 424h2v1h-2zM875 425h4v1h-4zM879 426h14v1h-14zM893 427h1v1h-1zM894 428h3v1h-3zM925 428h4v1h-4zM897 429h1v1h-1zM923 429h2v1h-2zM898 430h1v1h-1zM920 430h3v1h-3zM899 431h2v1h-2zM919 431h1v1h-1zM901 432h18v1h-18z" fill="#ffff00"/>
<rect x="4" y="161" width="1163" height="2" fill="#ff0000"/>
<rect x="4" y="232" width="1163" height="2" fill="#ff0000"/>
<rect x="4" y="304" width="1163" height="2" fill="#ff0000"/>
<rect x="4" y="372" width="1163" height="2" fill="#00ff00"/>
<rect x="4" y="445" width="1163" height="2" fill="#0000ff"/>
<path d="M4 137h1v18h-1zM8 127h1v58h-1zM10 162h1v28h-1zM16 173h1v12h-1zM18 159h1v41h-1zM22 164h1v27h-1zM26 173h1v13h-1zM34 130h1v13h-1zM38 127h1v17h-1zM44 115h1v26h-1zM72 95h1v28h-1zM76 95h1v19h-1zM92 95h1v17h-1zM94 95h1v21h-1zM98 95h1v16h-1zM132 95h1v13h-1zM134 95h1v17h-1zM138 95h1v14h-1zM142 95h1v10h-1zM146 95h1v13h-1zM148 95h1v17h-1zM152 95h1v47h-1zM160 95h1v11h-1zM186 95h1v21h-1zM198 95h1v15h-1zM200 95h1v45h-1zM202 128h1v23h-1zM206 141h1v14h-1zM208 146h1v16h-1zM214 95h1v27h-1zM216 110h1v13h-1zM218 112h1v13h-1zM220 114h1v15h-1zM228 92h1v8h-1zM230 97h1v9h-1zM232 101h1v10h-1zM234 103h1v16h-1zM238 98h1v12h-1zM240 106h1v8h-1zM244 103h1v8h-1zM250 81h1v27h-1zM252 103h1v10h-1zM254 105h1v12h-1zM256 114h1v6h-1zM262 100h1v21h-1zM264 108h1v12h-1zM270 98h1v29h-1zM272 121h1v37h-1zM274 145h1v26h-1zM276 162h1v8h-1zM278 155h1v14h-1zM288 144h1v9h-1zM290 147h1v8h-1zM292 146h1v8h-1zM294 130h1v21h-1zM298 142h1v11h-1zM300 143h1v10h-1zM302 143h1v9h-1zM306 139h1v14h-1zM308 145h1v13h-1zM310 144h1v14h-1zM312 148h1v86h-1zM314 226h1v20h-1zM318 233h1v47h-1zM320 268h1v19h-1zM322 275h1v27h-1zM324 289h1v24h-1zM326 294h1v11h-1zM328 287h1v22h-1zM332 289h1v44h-1zM336 317h1v11h-1zM338 322h1v13h-1zM348 290h1v12h-1zM352 293h1v19h-1zM354 296h1v23h-1zM362 274h1v13h-1zM364 284h1v12h-1zM370 256h1v21h-1zM372 269h1v15h-1zM374 281h1v12h-1zM382 269h1v20h-1zM384 279h1v9h-1zM394 253h1v24h-1zM396 276h1v12h-1zM398 274h1v17h-1zM404 277h1v28h-1zM408 278h1v15h-1zM410 284h1v12h-1zM414 289h1v19h-1zM416 296h1v27h-1zM420 299h1v12h-1zM422 300h1v10h-1zM424 299h1v10h-1zM426 299h1v19h-1zM428 308h1v23h-1zM430 323h1v23h-1zM434 333h1v12h-1zM436 339h1v11h-1zM442 319h1v24h-1zM444 333h1v16h-1zM446 339h1v10h-1zM448 342h1v7h-1zM450 345h1v17h-1zM458 331h1v10h-1zM464 319h1v20h-1zM474 308h1v47h-1zM476 343h1v19h-1zM478 345h1v23h-1zM486 353h1v15h-1zM488 350h1v28h-1zM490 372h1v19h-1zM492 361h1v22h-1zM494 376h1v13h-1zM502 328h1v23h-1zM504 342h1v11h-1zM506 340h1v13h-1zM508 347h1v9h-1zM514 323h1v15h-1zM518 319h1v10h-1zM520 324h1v13h-1zM522 319h1v28h-1zM526 328h1v13h-1zM532 322h1v16h-1zM534 329h1v22h-1zM536 340h1v43h-1zM538 352h1v20h-1zM540 364h1v33h-1zM554 348h1v11h-1zM560 344h1v30h-1zM562 359h1v14h-1zM566 363h1v13h-1zM572 361h1v21h-1zM576 362h1v11h-1zM578 367h1v12h-1zM580 370h1v8h-1zM582 372h1v30h-1zM588 371h1v12h-1zM590 374h1v11h-1zM592 374h1v18h-1zM596 376h1v33h-1zM602 387h1v9h-1zM604 392h1v8h-1zM614 373h1v12h-1zM616 375h1v13h-1zM622 364h1v39h-1zM628 393h1v10h-1zM632 388h1v22h-1zM634 400h1v10h-1zM638 393h1v11h-1zM648 366h1v12h-1zM650 367h1v11h-1zM652 370h1v8h-1zM654 375h1v24h-1zM660 347h1v17h-1zM664 356h1v10h-1zM666 354h1v18h-1zM668 362h1v26h-1zM686 309h1v13h-1zM688 316h1v7h-1zM692 302h1v23h-1zM694 317h1v24h-1zM696 329h1v11h-1zM704 310h1v17h-1zM706 315h1v11h-1zM708 322h1v8h-1zM712 317h1v10h-1zM716 310h1v24h-1zM718 322h1v17h-1zM726 319h1v29h-1zM730 310h1v43h-1zM732 345h1v8h-1zM734 347h1v8h-1zM736 348h1v6h-1zM738 341h1v16h-1zM742 339h1v14h-1zM744 346h1v10h-1zM746 350h1v11h-1zM748 355h1v9h-1zM750 354h1v20h-1zM752 366h1v34h-1zM754 393h1v16h-1zM756 401h1v9h-1zM760 399h1v9h-1zM762 400h1v13h-1zM764 398h1v19h-1zM768 412h1v12h-1zM770 418h1v7h-1zM772 417h1v9h-1zM774 416h1v17h-1zM776 426h1v15h-1zM780 430h1v8h-1zM784 428h1v10h-1zM786 433h1v11h-1zM794 415h1v7h-1zM800 417h1v14h-1zM808 417h1v10h-1zM820 378h1v12h-1zM822 381h1v12h-1zM830 389h1v9h-1zM832 393h1v7h-1zM836 393h1v33h-1zM838 419h1v22h-1zM840 432h1v10h-1zM844 430h1v10h-1zM850 433h1v20h-1zM854 435h1v25h-1zM856 455h1v17h-1zM858 448h1v22h-1zM864 451h1v17h-1zM866 456h1v11h-1zM868 454h1v11h-1zM870 455h1v14h-1zM880 429h1v14h-1zM886 418h1v9h-1zM890 412h1v11h-1zM894 413h1v15h-1zM898 400h1v18h-1zM902 405h1v18h-1zM908 410h1v19h-1zM914 393h1v11h-1zM916 397h1v8h-1zM920 390h1v24h-1zM924 401h1v13h-1zM928 406h1v3h-1z" fill="#32cd32"/>
<path d="M6 133h1v17h-1zM12 176h1v14h-1zM14 172h1v17h-1zM20 165h1v29h-1zM24 169h1v22h-1zM28 165h1v17h-1zM30 143h1v28h-1zM32 132h1v30h-1zM36 132h1v10h-1zM40 134h1v13h-1zM42 115h1v28h-1zM46 123h1v12h-1zM48 120h1v9h-1zM50 116h1v18h-1zM52 115h1v6h-1zM54 95h1v24h-1zM74 103h1v14h-1zM78 95h1v15h-1zM80 95h1v13h-1zM96 106h1v15h-1zM100 95h1v17h-1zM102 95h1v17h-1zM136 95h1v10h-1zM140 95h1v14h-1zM144 95h1v10h-1zM150 95h1v20h-1zM154 95h1v26h-1zM158 95h1v10h-1zM162 95h1v9h-1zM164 95h1v9h-1zM188 95h1v25h-1zM204 140h1v13h-1zM210 151h1v11h-1zM212 95h1v67h-1zM222 115h1v19h-1zM224 95h1v35h-1zM226 95h1v10h-1zM236 101h1v15h-1zM242 107h1v7h-1zM246 98h1v13h-1zM248 80h1v22h-1zM258 111h1v17h-1zM260 97h1v37h-1zM266 101h1v20h-1zM268 99h1v9h-1zM280 157h1v11h-1zM282 146h1v24h-1zM284 142h1v15h-1zM286 144h1v7h-1zM296 143h1v22h-1zM304 142h1v12h-1zM316 230h1v10h-1zM330 288h1v28h-1zM334 321h1v22h-1zM340 316h1v27h-1zM342 304h1v37h-1zM344 290h1v26h-1zM346 293h1v15h-1zM350 290h1v18h-1zM356 298h1v21h-1zM358 296h1v15h-1zM360 268h1v33h-1zM366 273h1v24h-1zM368 256h1v24h-1zM376 284h1v9h-1zM378 273h1v18h-1zM380 265h1v22h-1zM386 273h1v11h-1zM388 273h1v7h-1zM390 269h1v11h-1zM392 252h1v26h-1zM400 281h1v10h-1zM402 273h1v16h-1zM406 278h1v11h-1zM412 289h1v12h-1zM418 297h1v22h-1zM432 332h1v13h-1zM438 333h1v18h-1zM440 316h1v27h-1zM452 334h1v38h-1zM454 340h1v17h-1zM456 323h1v27h-1zM460 329h1v12h-1zM462 319h1v21h-1zM466 328h1v6h-1zM468 328h1v5h-1zM470 327h1v9h-1zM472 317h1v14h-1zM480 356h1v16h-1zM482 357h1v10h-1zM484 351h1v12h-1zM496 371h1v18h-1zM498 350h1v33h-1zM500 330h1v29h-1zM510 336h1v23h-1zM512 326h1v13h-1zM516 321h1v14h-1zM524 323h1v28h-1zM528 332h1v8h-1zM530 326h1v11h-1zM542 388h1v9h-1zM544 382h1v11h-1zM546 376h1v19h-1zM548 356h1v27h-1zM550 356h1v12h-1zM552 348h1v11h-1zM556 345h1v15h-1zM558 340h1v19h-1zM564 366h1v14h-1zM568 366h1v10h-1zM570 360h1v18h-1zM574 367h1v13h-1zM584 358h1v45h-1zM586 371h1v11h-1zM594 374h1v23h-1zM598 389h1v20h-1zM600 385h1v13h-1zM606 388h1v23h-1zM608 384h1v22h-1zM610 374h1v16h-1zM612 372h1v14h-1zM618 375h1v16h-1zM620 354h1v44h-1zM624 392h1v16h-1zM626 389h1v11h-1zM630 385h1v19h-1zM636 394h1v12h-1zM640 389h1v9h-1zM642 376h1v24h-1zM644 363h1v30h-1zM646 365h1v11h-1zM656 357h1v37h-1zM658 349h1v26h-1zM662 358h1v11h-1zM670 368h1v16h-1zM672 341h1v56h-1zM674 340h1v9h-1zM676 333h1v12h-1zM678 319h1v22h-1zM680 316h1v12h-1zM682 311h1v12h-1zM684 310h1v12h-1zM690 299h1v25h-1zM698 324h1v12h-1zM700 316h1v15h-1zM702 307h1v16h-1zM710 320h1v9h-1zM714 314h1v13h-1zM720 325h1v11h-1zM722 325h1v9h-1zM724 322h1v9h-1zM728 305h1v35h-1zM740 335h1v20h-1zM758 402h1v16h-1zM766 408h1v12h-1zM778 429h1v12h-1zM782 430h1v10h-1zM788 411h1v31h-1zM790 417h1v13h-1zM792 408h1v15h-1zM796 414h1v11h-1zM798 412h1v11h-1zM802 421h1v10h-1zM804 416h1v9h-1zM806 417h1v11h-1zM810 411h1v16h-1zM812 395h1v27h-1zM814 375h1v27h-1zM816 372h1v9h-1zM818 375h1v8h-1zM824 382h1v17h-1zM826 383h1v12h-1zM828 388h1v8h-1zM834 387h1v19h-1zM842 434h1v13h-1zM846 425h1v13h-1zM848 428h1v15h-1zM852 416h1v35h-1zM860 443h1v17h-1zM862 446h1v17h-1zM872 457h1v17h-1zM874 452h1v17h-1zM876 443h1v12h-1zM878 433h1v20h-1zM882 423h1v20h-1zM884 416h1v21h-1zM888 411h1v15h-1zM892 414h1v10h-1zM896 408h1v18h-1zM900 405h1v13h-1zM904 414h1v10h-1zM906 404h1v21h-1zM910 404h1v12h-1zM912 394h1v16h-1zM918 393h1v15h-1zM922 399h1v17h-1zM926 405h1v7h-1z" fill="#ff0000"/>
<rect x="4" y="24" width="224" height="78" fill="#ffffff"/>
<rect x="3" y="159" width="5" height="6" fill="#ff0000"/>
<rect x="5" y="161" width="2" height="2" fill="#ffffff"/>
<rect x="1160" y="159" width="6" height="6" fill="#ff0000"/>
<rect x="1162" y="161" width="2" height="2" fill="#ffffff"/>
<rect x="3" y="230" width="5" height="6" fill="#ff0000"/>
<rect x="5" y="232" width="2" height="2" fill="#ffffff"/>
<rect x="1160" y="230" width="6" height="6" fill="#ff0000"/>
<rect x="1162" y="232" width="2" height="2" fill="#ffffff"/>
<rect x="3" y="302" width="5" height="6" fill="#ff0000"/>
<rect x="5" y="304" width="2" height="2" fill="#ffffff"/>
<rect x="1160" y="302" width="6" height="6" fill="#ff0000"/>
<rect x="1162" y="304" width="2" height="2" fill="#ffffff"/>
<rect x="3" y="370" width="5" height="6" fill="#00ff00"/>
<rect x="5" y="372" width="2" height="2" fill="#ffffff"/>
<rect x="1160" y="370" width="6" height="6" fill="#00ff00"/>
<rect x="1162" y="372" width="2" height="2" fill="#ffffff"/>
<path d="M4 500h2v14h-2zM6 505h2v9h-2zM8 509h2v5h-2zM10 512h2v2h-2zM12 513h2v2h-2zM14 513h2v4h-2zM16 513h2v6h-2zM18 513h2v7h-2zM20 513h2v8h-2zM22 513h2v8h-2zM24 513h2v9h-2zM26 513h2v8h-2zM28 513h2v6h-2zM30 513h2v3h-2zM32 512h2v2h-2zM34 510h2v4h-2zM36 509h2v5h-2zM38 508h2v6h-2zM40 507h2v7h-2zM42 506h2v8h-2zM44 504h2v10h-2zM46 504h2v10h-2zM48 503h2v11h-2zM50 502h2v12h-2zM52 502h2v12h-2zM54 501h2v13h-2zM56 499h2v15h-2zM58 497h2v17h-2zM60 495h2v19h-2zM62 494h2v20h-2zM64 492h2v22h-2zM66 492h2v22h-2zM68 492h2v22h-2zM70 493h2v21h-2zM72 497h2v17h-2zM74 500h2v14h-2zM76 500h2v14h-2zM78 501h2v13h-2zM80 500h2v14h-2zM82 500h2v14h-2zM84 499h2v15h-2zM86 500h2v14h-2zM88 501h2v13h-2zM90 502h2v12h-2zM92 504h2v10h-2zM94 506h2v8h-2zM96 507h2v7h-2zM98 508h2v6h-2zM100 509h2v5h-2zM102 509h2v5h-2zM104 508h2v6h-2zM106 508h2v6h-2zM108 507h2v7h-2zM110 506h2v8h-2zM112 505h2v9h-2zM114 504h2v10h-2zM116 503h2v11h-2zM118 502h2v12h-2zM120 502h2v12h-2zM122 502h2v12h-2zM124 502h2v12h-2zM126 504h2v10h-2zM128 507h2v7h-2zM130 509h2v5h-2zM132 511h2v3h-2zM134 513h2v1h-2zM136 513h2v2h-2zM138 513h2v3h-2zM140 513h2v4h-2zM142 513h2v5h-2zM144 513h2v6h-2zM146 513h2v7h-2zM148 513h2v8h-2zM150 513h2v9h-2zM152 513h2v9h-2zM154 513h2v8h-2zM156 513h2v8h-2zM158 513h2v7h-2zM160 513h2v5h-2zM162 513h2v4h-2zM164 513h2v2h-2zM166 512h2v2h-2zM168 511h2v3h-2zM170 509h2v5h-2zM172 509h2v5h-2zM174 508h2v6h-2zM176 507h2v7h-2zM178 507h2v7h-2zM180 508h2v6h-2zM182 509h2v5h-2zM184 510h2v4h-2zM186 512h2v2h-2zM188 513h2v1h-2zM190 513h2v1h-2zM192 513h2v2h-2zM194 513h2v3h-2zM196 513h2v4h-2zM198 513h2v7h-2zM200 513h2v11h-2zM202 513h2v14h-2zM204 513h2v17h-2zM206 513h2v19h-2zM208 513h2v21h-2zM210 513h2v19h-2zM212 513h2v18h-2zM214 513h2v16h-2zM216 513h2v15h-2zM218 513h2v13h-2zM220 513h2v12h-2zM222 513h2v10h-2zM224 513h2v8h-2zM226 513h2v6h-2zM228 513h2v4h-2zM230 513h2v4h-2zM232 513h2v3h-2zM234 513h2v3h-2zM236 513h2v3h-2zM238 513h2v2h-2zM240 513h2v2h-2zM242 513h2v2h-2zM244 513h2v1h-2zM246 511h2v3h-2zM248 511h2v3h-2zM250 512h2v2h-2zM252 513h2v1h-2zM254 513h2v1h-2zM256 513h2v1h-2zM258 513h2v1h-2zM260 513h2v1h-2zM262 513h2v1h-2zM264 513h2v1h-2zM266 513h2v2h-2zM268 513h2v3h-2zM270 513h2v6h-2zM272 513h2v10h-2zM274 513h2v13h-2zM276 513h2v15h-2zM278 513h2v16h-2zM280 513h2v16h-2zM282 513h2v16h-2zM284 513h2v15h-2zM286 513h2v14h-2zM288 513h2v14h-2zM290 513h2v13h-2zM292 513h2v13h-2zM294 513h2v12h-2zM296 513h2v12h-2zM298 513h2v11h-2zM300 513h2v11h-2zM302 513h2v10h-2zM304 513h2v10h-2zM306 513h2v10h-2zM308 513h2v9h-2zM310 513h2v11h-2zM312 513h2v15h-2zM314 513h2v22h-2zM316 513h2v28h-2zM318 513h2v33h-2zM320 513h2v38h-2zM322 513h2v43h-2zM324 513h2v46h-2zM326 513h2v48h-2zM328 513h2v50h-2zM330 513h2v51h-2zM332 513h2v52h-2zM334 513h2v54h-2zM336 513h2v53h-2zM338 513h2v52h-2zM340 513h2v50h-2zM342 513h2v47h-2zM344 513h2v43h-2zM346 513h2v40h-2zM348 513h2v38h-2zM350 513h2v36h-2zM352 513h2v35h-2zM354 513h2v33h-2zM356 513h2v30h-2zM358 513h2v25h-2zM360 513h2v23h-2zM362 513h2v20h-2zM364 513h2v17h-2zM366 513h2v13h-2zM368 513h2v11h-2zM370 513h2v11h-2zM372 513h2v10h-2zM374 513h2v10h-2zM376 513h2v9h-2zM378 513h2v8h-2zM380 513h2v7h-2zM382 513h2v6h-2zM384 513h2v5h-2zM386 513h2v4h-2zM388 513h2v3h-2zM390 513h2v2h-2zM392 513h2v1h-2zM394 513h2v1h-2zM396 513h2v1h-2zM398 513h2v1h-2zM400 513h2v1h-2zM402 513h2v1h-2zM404 513h2v2h-2zM406 513h2v3h-2zM408 513h2v5h-2zM410 513h2v6h-2zM412 513h2v7h-2zM414 513h2v7h-2zM416 513h2v8h-2zM418 513h2v9h-2zM420 513h2v10h-2zM422 513h2v10h-2zM424 513h2v10h-2zM426 513h2v11h-2zM428 513h2v13h-2zM430 513h2v15h-2zM432 513h2v17h-2zM434 513h2v18h-2zM436 513h2v19h-2zM438 513h2v18h-2zM440 513h2v18h-2zM442 513h2v18h-2zM444 513h2v17h-2zM446 513h2v17h-2zM448 513h2v17h-2zM450 513h2v17h-2zM452 513h2v16h-2zM454 513h2v16h-2zM456 513h2v15h-2zM458 513h2v14h-2zM460 513h2v12h-2zM462 513h2v11h-2zM464 513h2v10h-2zM466 513h2v9h-2zM468 513h2v8h-2zM470 513h2v7h-2zM472 513h2v7h-2zM474 513h2v9h-2zM476 513h2v10h-2zM478 513h2v11h-2zM480 513h2v12h-2zM482 513h2v12h-2zM484 513h2v13h-2zM486 513h2v13h-2zM488 513h2v14h-2zM490 513h2v15h-2zM492 513h2v17h-2zM494 513h2v17h-2zM496 513h2v16h-2zM498 513h2v13h-2zM500 513h2v11h-2zM502 513h2v9h-2zM504 513h2v8h-2zM506 513h2v7h-2zM508 513h2v6h-2zM510 513h2v4h-2zM512 513h2v2h-2zM514 512h2v2h-2zM516 510h2v4h-2zM518 509h2v5h-2zM520 509h2v5h-2zM522 509h2v5h-2zM524 509h2v5h-2zM526 510h2v4h-2zM528 510h2v4h-2zM530 511h2v3h-2zM532 511h2v3h-2zM534 512h2v2h-2zM536 513h2v1h-2zM538 513h2v6h-2zM540 513h2v10h-2zM542 513h2v12h-2zM544 513h2v13h-2zM546 513h2v13h-2zM548 513h2v11h-2zM550 513h2v9h-2zM552 513h2v7h-2zM554 513h2v5h-2zM556 513h2v5h-2zM558 513h2v6h-2zM560 513h2v7h-2zM562 513h2v7h-2zM564 513h2v7h-2zM566 513h2v7h-2zM568 513h2v6h-2zM570 513h2v6h-2zM572 513h2v7h-2zM574 513h2v8h-2zM576 513h2v8h-2zM578 513h2v9h-2zM580 513h2v9h-2zM582 513h2v9h-2zM584 513h2v9h-2zM586 513h2v9h-2zM588 513h2v9h-2zM590 513h2v9h-2zM592 513h2v9h-2zM594 513h2v10h-2zM596 513h2v10h-2zM598 513h2v11h-2zM600 513h2v11h-2zM602 513h2v12h-2zM604 513h2v12h-2zM606 513h2v11h-2zM608 513h2v11h-2zM610 513h2v10h-2zM612 513h2v8h-2zM614 513h2v7h-2zM616 513h2v5h-2zM618 513h2v4h-2zM620 513h2v5h-2zM622 513h2v6h-2zM624 513h2v7h-2zM626 513h2v7h-2zM628 513h2v8h-2zM630 513h2v9h-2zM632 513h2v9h-2zM634 513h2v9h-2zM636 513h2v8h-2zM638 513h2v7h-2zM640 513h2v6h-2zM642 513h2v4h-2zM644 513h2v2h-2zM646 512h2v2h-2zM648 512h2v2h-2zM650 511h2v3h-2zM652 510h2v4h-2zM654 510h2v4h-2zM656 509h2v5h-2zM658 508h2v6h-2zM660 507h2v7h-2zM662 507h2v7h-2zM664 507h2v7h-2zM666 508h2v6h-2zM668 507h2v7h-2zM670 505h2v9h-2zM672 504h2v10h-2zM674 502h2v12h-2zM676 500h2v14h-2zM678 498h2v16h-2zM680 497h2v17h-2zM682 496h2v18h-2zM684 495h2v19h-2zM686 495h2v19h-2zM688 494h2v20h-2zM690 495h2v19h-2zM692 497h2v17h-2zM694 498h2v16h-2zM696 499h2v15h-2zM698 500h2v14h-2zM700 500h2v14h-2zM702 501h2v13h-2zM704 502h2v12h-2zM706 502h2v12h-2zM708 503h2v11h-2zM710 504h2v10h-2zM712 504h2v10h-2zM714 505h2v9h-2zM716 506h2v8h-2zM718 506h2v8h-2zM720 508h2v6h-2zM722 508h2v6h-2zM724 509h2v5h-2zM726 510h2v4h-2zM728 511h2v3h-2zM730 512h2v2h-2zM732 513h2v2h-2zM734 513h2v4h-2zM736 513h2v5h-2zM738 513h2v5h-2zM740 513h2v6h-2zM742 513h2v6h-2zM744 513h2v7h-2zM746 513h2v8h-2zM748 513h2v9h-2zM750 513h2v11h-2zM752 513h2v15h-2zM754 513h2v17h-2zM756 513h2v19h-2zM758 513h2v21h-2zM760 513h2v22h-2zM762 513h2v23h-2zM764 513h2v24h-2zM766 513h2v24h-2zM768 513h2v25h-2zM770 513h2v25h-2zM772 513h2v26h-2zM774 513h2v26h-2zM776 513h2v27h-2zM778 513h2v26h-2zM780 513h2v26h-2zM782 513h2v25h-2zM784 513h2v24h-2zM786 513h2v23h-2zM788 513h2v21h-2zM790 513h2v19h-2zM792 513h2v18h-2zM794 513h2v16h-2zM796 513h2v15h-2zM798 513h2v14h-2zM800 513h2v13h-2zM802 513h2v13h-2zM804 513h2v12h-2zM806 513h2v11h-2zM808 513h2v10h-2zM810 513h2v8h-2zM812 513h2v4h-2zM814 513h2v1h-2zM816 510h2v4h-2zM818 508h2v6h-2zM820 508h2v6h-2zM822 507h2v7h-2zM824 507h2v7h-2zM826 508h2v6h-2zM828 508h2v6h-2zM830 509h2v5h-2zM832 510h2v4h-2zM834 511h2v3h-2zM836 513h2v3h-2zM838 513h2v6h-2zM840 513h2v8h-2zM842 513h2v9h-2zM844 513h2v10h-2zM846 513h2v11h-2zM848 513h2v12h-2zM850 513h2v13h-2zM852 513h2v14h-2zM854 513h2v16h-2zM856 513h2v17h-2zM858 513h2v16h-2zM860 513h2v16h-2zM862 513h2v17h-2zM864 513h2v17h-2zM866 513h2v17h-2zM868 513h2v17h-2zM870 513h2v16h-2zM872 513h2v16h-2zM874 513h2v15h-2zM876 513h2v13h-2zM878 513h2v11h-2zM880 513h2v9h-2zM882 513h2v6h-2zM884 513h2v4h-2zM886 513h2v1h-2zM888 512h2v2h-2zM890 510h2v4h-2zM892 510h2v4h-2zM894 509h2v5h-2zM896 508h2v6h-2zM898 508h2v6h-2zM900 507h2v7h-2zM902 507h2v7h-2zM904 507h2v7h-2zM906 507h2v7h-2zM908 506h2v8h-2zM910 505h2v9h-2zM912 505h2v9h-2zM914 504h2v10h-2zM916 504h2v10h-2zM918 504h2v10h-2zM920 505h2v9h-2zM922 505h2v9h-2zM924 506h2v8h-2zM926 506h2v8h-2zM928 507h2v7h-2z" fill="#c0c0c0"/>
<path d="M4 492h1v1h-1zM5 493h1v1h-1zM69 493h8v1h-8zM6 494h1v1h-1zM67 494h2v1h-2zM77 494h4v1h-4zM7 495h2v1h-2zM65 495h2v1h-2zM81 495h2v1h-2zM64 496h1v1h-1zM83 496h2v1h-2zM697 496h2v1h-2zM9 496h1v2h-1zM63 497h1v1h-1zM85 497h2v1h-2zM693 497h4v1h-4zM699 497h4v1h-4zM10 498h1v1h-1zM62 498h1v1h-1zM87 498h2v1h-2zM690 498h3v1h-3zM703 498h4v1h-4zM11 499h1v1h-1zM61 499h1v1h-1zM89 499h2v1h-2zM689 499h1v1h-1zM707 499h2v1h-2zM12 500h1v1h-1zM59 500h2v1h-2zM91 500h2v1h-2zM688 500h1v1h-1zM709 500h2v1h-2zM13 501h1v1h-1zM58 501h1v1h-1zM93 501h2v1h-2zM687 501h1v1h-1zM711 501h2v1h-2zM14 502h1v1h-1zM57 502h1v1h-1zM95 502h2v1h-2zM686 502h1v1h-1zM713 502h6v1h-6zM55 503h2v1h-2zM97 503h2v1h-2zM127 503h6v1h-6zM685 503h1v1h-1zM719 503h2v1h-2zM15 503h1v2h-1zM54 504h1v1h-1zM99 504h2v1h-2zM123 504h4v1h-4zM133 504h2v1h-2zM681 504h4v1h-4zM721 504h2v1h-2zM16 505h1v1h-1zM53 505h1v1h-1zM101 505h2v1h-2zM121 505h2v1h-2zM135 505h2v1h-2zM679 505h2v1h-2zM723 505h2v1h-2zM925 505h4v1h-4zM17 506h1v1h-1zM51 506h2v1h-2zM103 506h2v1h-2zM117 506h4v1h-4zM137 506h2v1h-2zM677 506h2v1h-2zM725 506h4v1h-4zM917 506h8v1h-8zM18 507h1v1h-1zM49 507h2v1h-2zM105 507h2v1h-2zM115 507h2v1h-2zM139 507h1v1h-1zM675 507h2v1h-2zM729 507h2v1h-2zM913 507h4v1h-4zM48 508h1v1h-1zM107 508h8v1h-8zM140 508h1v1h-1zM671 508h4v1h-4zM731 508h4v1h-4zM833 508h4v1h-4zM909 508h4v1h-4zM19 508h1v2h-1zM47 509h1v1h-1zM141 509h2v1h-2zM183 509h6v1h-6zM665 509h6v1h-6zM735 509h2v1h-2zM830 509h3v1h-3zM837 509h2v1h-2zM905 509h4v1h-4zM20 510h1v1h-1zM46 510h1v1h-1zM143 510h1v1h-1zM179 510h4v1h-4zM189 510h4v1h-4zM527 510h10v1h-10zM663 510h2v1h-2zM737 510h2v1h-2zM829 510h1v1h-1zM839 510h2v1h-2zM902 510h3v1h-3zM21 511h1v1h-1zM45 511h1v1h-1zM144 511h1v1h-1zM178 511h1v1h-1zM193 511h4v1h-4zM525 511h2v1h-2zM537 511h2v1h-2zM661 511h2v1h-2zM739 511h1v1h-1zM828 511h1v1h-1zM841 511h1v1h-1zM901 511h1v1h-1zM22 512h1v1h-1zM43 512h2v1h-2zM145 512h2v1h-2zM177 512h1v1h-1zM197 512h1v1h-1zM523 512h2v1h-2zM539 512h2v1h-2zM659 512h2v1h-2zM740 512h1v1h-1zM827 512h1v1h-1zM842 512h1v1h-1zM899 512h2v1h-2zM42 513h1v1h-1zM147 513h1v1h-1zM175 513h2v1h-2zM198 513h1v1h-1zM251 513h4v1h-4zM521 513h2v1h-2zM541 513h1v1h-1zM657 513h2v1h-2zM741 513h2v1h-2zM826 513h1v1h-1zM843 513h2v1h-2zM898 513h1v1h-1zM23 513h1v2h-1zM41 514h1v1h-1zM148 514h1v1h-1zM173 514h2v1h-2zM199 514h2v1h-2zM245 514h6v1h-6zM255 514h16v1h-16zM520 514h1v1h-1zM542 514h1v1h-1zM655 514h2v1h-2zM743 514h2v1h-2zM825 514h1v1h-1zM845 514h1v1h-1zM897 514h1v1h-1zM24 515h1v1h-1zM39 515h2v1h-2zM149 515h2v1h-2zM171 515h2v1h-2zM201 515h1v1h-1zM243 515h2v1h-2zM271 515h2v1h-2zM397 515h14v1h-14zM519 515h1v1h-1zM543 515h2v1h-2zM653 515h2v1h-2zM745 515h1v1h-1zM824 515h1v1h-1zM846 515h1v1h-1zM896 515h1v1h-1zM25 516h2v1h-2zM38 516h1v1h-1zM151 516h2v1h-2zM169 516h2v1h-2zM202 516h1v1h-1zM239 516h4v1h-4zM273 516h2v1h-2zM393 516h4v1h-4zM411 516h4v1h-4zM517 516h2v1h-2zM545 516h2v1h-2zM651 516h2v1h-2zM746 516h1v1h-1zM823 516h1v1h-1zM847 516h2v1h-2zM895 516h1v1h-1zM27 517h2v1h-2zM37 517h1v1h-1zM153 517h2v1h-2zM167 517h2v1h-2zM203 517h1v1h-1zM237 517h2v1h-2zM275 517h1v1h-1zM391 517h2v1h-2zM415 517h4v1h-4zM516 517h1v1h-1zM547 517h1v1h-1zM649 517h2v1h-2zM747 517h2v1h-2zM822 517h1v1h-1zM849 517h1v1h-1zM893 517h2v1h-2zM29 518h2v1h-2zM33 518h4v1h-4zM155 518h4v1h-4zM163 518h4v1h-4zM204 518h1v1h-1zM235 518h2v1h-2zM276 518h1v1h-1zM389 518h2v1h-2zM419 518h2v1h-2zM515 518h1v1h-1zM548 518h1v1h-1zM647 518h2v1h-2zM749 518h2v1h-2zM821 518h1v1h-1zM850 518h1v1h-1zM892 518h1v1h-1zM31 519h2v1h-2zM159 519h4v1h-4zM205 519h1v1h-1zM234 519h1v1h-1zM277 519h2v1h-2zM387 519h2v1h-2zM421 519h4v1h-4zM514 519h1v1h-1zM549 519h2v1h-2zM563 519h18v1h-18zM619 519h28v1h-28zM751 519h2v1h-2zM819 519h2v1h-2zM851 519h2v1h-2zM891 519h1v1h-1zM206 520h1v1h-1zM233 520h1v1h-1zM279 520h2v1h-2zM385 520h2v1h-2zM425 520h2v1h-2zM475 520h6v1h-6zM513 520h1v1h-1zM551 520h2v1h-2zM561 520h2v1h-2zM581 520h12v1h-12zM617 520h2v1h-2zM753 520h2v1h-2zM818 520h1v1h-1zM853 520h1v1h-1zM890 520h1v1h-1zM207 521h1v1h-1zM231 521h2v1h-2zM281 521h1v1h-1zM383 521h2v1h-2zM427 521h4v1h-4zM473 521h2v1h-2zM481 521h4v1h-4zM511 521h2v1h-2zM553 521h2v1h-2zM557 521h4v1h-4zM593 521h8v1h-8zM613 521h4v1h-4zM755 521h1v1h-1zM817 521h1v1h-1zM854 521h1v1h-1zM889 521h1v1h-1zM208 522h1v1h-1zM229 522h2v1h-2zM282 522h1v1h-1zM309 522h4v1h-4zM382 522h1v1h-1zM431 522h2v1h-2zM472 522h1v1h-1zM485 522h2v1h-2zM509 522h2v1h-2zM555 522h2v1h-2zM601 522h12v1h-12zM756 522h1v1h-1zM815 522h2v1h-2zM855 522h1v1h-1zM888 522h1v1h-1zM209 523h2v1h-2zM227 523h2v1h-2zM283 523h2v1h-2zM305 523h4v1h-4zM313 523h2v1h-2zM381 523h1v1h-1zM433 523h1v1h-1zM471 523h1v1h-1zM487 523h2v1h-2zM507 523h2v1h-2zM757 523h1v1h-1zM813 523h2v1h-2zM856 523h1v1h-1zM887 523h1v1h-1zM211 524h1v1h-1zM226 524h1v1h-1zM285 524h1v1h-1zM301 524h4v1h-4zM315 524h1v1h-1zM379 524h2v1h-2zM434 524h1v1h-1zM469 524h2v1h-2zM489 524h2v1h-2zM505 524h2v1h-2zM758 524h1v1h-1zM811 524h2v1h-2zM857 524h2v1h-2zM883 524h4v1h-4zM212 525h1v1h-1zM225 525h1v1h-1zM286 525h3v1h-3zM299 525h2v1h-2zM316 525h1v1h-1zM378 525h1v1h-1zM435 525h2v1h-2zM467 525h2v1h-2zM491 525h2v1h-2zM503 525h2v1h-2zM759 525h1v1h-1zM809 525h2v1h-2zM859 525h2v1h-2zM881 525h2v1h-2zM213 526h2v1h-2zM221 526h4v1h-4zM289 526h10v1h-10zM317 526h1v1h-1zM377 526h1v1h-1zM437 526h2v1h-2zM465 526h2v1h-2zM493 526h10v1h-10zM760 526h1v1h-1zM807 526h2v1h-2zM861 526h2v1h-2zM879 526h2v1h-2zM215 527h6v1h-6zM318 527h1v1h-1zM376 527h1v1h-1zM439 527h4v1h-4zM463 527h2v1h-2zM761 527h2v1h-2zM806 527h1v1h-1zM863 527h4v1h-4zM877 527h2v1h-2zM443 528h2v1h-2zM461 528h2v1h-2zM763 528h1v1h-1zM805 528h1v1h-1zM867 528h10v1h-10zM319 528h1v2h-1zM375 528h1v2h-1zM445 529h4v1h-4zM455 529h6v1h-6zM764 529h1v1h-1zM803 529h2v1h-2zM320 530h1v1h-1zM374 530h1v1h-1zM449 530h6v1h-6zM765 530h1v1h-1zM801 530h2v1h-2zM373 531h1v1h-1zM766 531h1v1h-1zM799 531h2v1h-2zM321 531h1v2h-1zM372 532h1v1h-1zM767 532h2v1h-2zM797 532h2v1h-2zM322 533h1v1h-1zM371 533h1v1h-1zM769 533h2v1h-2zM795 533h2v1h-2zM370 534h1v1h-1zM771 534h2v1h-2zM793 534h2v1h-2zM323 534h1v2h-1zM773 535h2v1h-2zM791 535h2v1h-2zM369 535h1v2h-1zM775 536h2v1h-2zM789 536h2v1h-2zM324 536h1v2h-1zM368 537h1v1h-1zM777 537h12v1h-12zM325 538h1v2h-1zM367 538h1v2h-1zM366 540h1v1h-1zM326 540h1v2h-1zM365 541h1v2h-1zM327 542h1v2h-1zM364 543h1v1h-1zM363 544h1v1h-1zM328 544h1v2h-1zM362 545h1v1h-1zM329 546h1v2h-1zM361 546h1v2h-1zM360 548h1v1h-1zM330 548h1v2h-1zM359 549h1v2h-1zM331 550h1v2h-1zM358 551h1v1h-1zM357 552h1v1h-1zM332 552h1v2h-1zM356 553h1v1h-1zM333 554h1v2h-1zM355 554h1v2h-1zM334 556h1v1h-1zM354 556h1v1h-1zM335 557h1v1h-1zM353 557h1v1h-1zM336 558h1v1h-1zM352 558h1v1h-1zM337 559h1v1h-1zM351 559h1v1h-1zM338 560h1v1h-1zM349 560h2v1h-2zM339 561h1v1h-1zM347 561h2v1h-2zM340 562h1v1h-1zM345 562h2v1h-2zM341 563h4v1h-4z" fill="#ff0000"/>
<path d="M5 598h3v1h-3zM11 598h3v1h-3zM17 598h3v1h-3zM23 598h3v1h-3zM29 598h3v1h-3zM35 598h3v1h-3zM41 598h3v1h-3zM47 598h3v1h-3zM53 598h3v1h-3zM59 598h3v1h-3zM65 598h3v1h-3zM71 598h3v1h-3zM77 598h3v1h-3zM83 598h3v1h-3zM89 598h3v1h-3zM95 598h3v1h-3zM101 598h3v1h-3zM107 598h3v1h-3zM113 598h3v1h-3zM119 598h3v1h-3zM125 598h3v1h-3zM131 598h3v1h-3zM137 598h3v1h-3zM143 598h3v1h-3zM149 598h3v1h-3zM155 598h3v1h-3zM161 598h3v1h-3zM167 598h3v1h-3zM173 598h3v1h-3zM179 598h3v1h-3zM185 598h3v1h-3zM191 598h3v1h-3zM197 598h3v1h-3zM203 598h3v1h-3zM209 598h3v1h-3zM215 598h3v1h-3zM221 598h3v1h-3zM227 598h3v1h-3zM233 598h3v1h-3zM239 598h3v1h-3zM245 598h3v1h-3zM251 598h3v1h-3zM257 598h3v1h-3zM263 598h3v1h-3zM269 598h3v1h-3zM275 598h3v1h-3zM281 598h3v1h-3zM287 598h3v1h-3zM293 598h3v1h-3zM299 598h3v1h-3zM305 598h3v1h-3zM311 598h3v1h-3zM317 598h3v1h-3zM323 598h3v1h-3zM329 598h3v1h-3zM335 598h3v1h-3zM341 598h3v1h-3zM347 598h3v1h-3zM353 598h3v1h-3zM359 598h3v1h-3zM365 598h3v1h-3zM371 598h3v1h-3zM377 598h3v1h-3zM383 598h3v1h-3zM389 598h3v1h-3zM395 598h3v1h-3zM401 598h3v1h-3zM407 598h3v1h-3zM413 598h3v1h-3zM419 598h3v1h-3zM425 598h3v1h-3zM431 598h3v1h-3zM437 598h3v1h-3zM443 598h3v1h-3zM449 598h3v1h-3zM455 598h3v1h-3zM461 598h3v1h-3zM467 598h3v1h-3zM473 598h3v1h-3zM479 598h3v1h-3zM485 598h3v1h-3zM491 598h3v1h-3zM497 598h3v1h-3zM503 598h3v1h-3zM509 598h3v1h-3zM515 598h3v1h-3zM521 598h3v1h-3zM527 598h3v1h-3zM533 598h3v1h-3zM539 598h3v1h-3zM545 598h3v1h-3zM551 598h3v1h-3zM557 598h3v1h-3zM563 598h3v1h-3zM569 598h3v1h-3zM575 598h3v1h-3zM581 598h3v1h-3zM587 598h3v1h-3zM593 598h3v1h-3zM599 598h3v1h-3zM605 598h3v1h-3zM611 598h3v1h-3zM617 598h3v1h-3zM623 598h3v1h-3zM629 598h3v1h-3zM635 598h3v1h-3zM641 598h3v1h-3zM647 598h3v1h-3zM653 598h3v1h-3zM659 598h3v1h-3zM665 598h3v1h-3zM671 598h3v1h-3zM677 598h3v1h-3zM683 598h3v1h-3zM689 598h3v1h-3zM695 598h3v1h-3zM701 598h3v1h-3zM707 598h3v1h-3zM713 598h3v1h-3zM719 598h3v1h-3zM725 598h3v1h-3zM731 598h3v1h-3zM737 598h3v1h-3zM743 598h3v1h-3zM749 598h3v1h-3zM755 598h3v1h-3zM761 598h3v1h-3zM767 598h3v1h-3zM773 598h3v1h-3zM779 598h3v1h-3zM785 598h3v1h-3zM791 598h3v1h-3zM797 598h3v1h-3zM803 598h3v1h-3zM809 598h3v1h-3zM815 598h3v1h-3zM821 598h3v1h-3zM827 598h3v1h-3zM833 598h3v1h-3zM839 598h3v1h-3zM845 598h3v1h-3zM851 598h3v1h-3zM857 598h3v1h-3zM863 598h3v1h-3zM869 598h3v1h-3zM875 598h3v1h-3zM881 598h3v1h-3zM887 598h3v1h-3zM893 598h3v1h-3zM899 598h3v1h-3zM905 598h3v1h-3zM911 598h3v1h-3zM917 598h3v1h-3zM923 598h3v1h-3zM929 598h3v1h-3zM935 598h3v1h-3zM941 598h3v1h-3zM947 598h3v1h-3zM953 598h3v1h-3zM959 598h3v1h-3zM965 598h3v1h-3zM971 598h3v1h-3zM977 598h3v1h-3zM983 598h3v1h-3zM989 598h3v1h-3zM995 598h3v1h-3zM1001 598h3v1h-3zM1007 598h3v1h-3zM1013 598h3v1h-3zM1019 598h3v1h-3zM1025 598h3v1h-3zM1031 598h3v1h-3zM1037 598h3v1h-3zM1043 598h3v1h-3zM1049 598h3v1h-3zM1055 598h3v1h-3zM1061 598h3v1h-3zM1067 598h3v1h-3zM1073 598h3v1h-3zM1079 598h3v1h-3zM1085 598h3v1h-3zM1091 598h3v1h-3zM1097 598h3v1h-3zM1103 598h3v1h-3zM1109 598h3v1h-3zM1115 598h3v1h-3zM1121 598h3v1h-3zM1127 598h3v1h-3zM1133 598h3v1h-3zM1139 598h3v1h-3zM1145 598h3v1h-3zM1151 598h3v1h-3zM1157 598h3v1h-3zM1163 598h3v1h-3z" fill="#c0c0c0"/>
<path d="M5 632h3v1h-3zM11 632h3v1h-3zM17 632h3v1h-3zM23 632h3v1h-3zM29 632h3v1h-3zM35 632h3v1h-3zM41 632h3v1h-3zM47 632h3v1h-3zM53 632h3v1h-3zM59 632h3v1h-3zM65 632h3v1h-3zM71 632h3v1h-3zM77 632h3v1h-3zM83 632h3v1h-3zM89 632h3v1h-3zM95 632h3v1h-3zM101 632h3v1h-3zM107 632h3v1h-3zM113 632h3v1h-3zM119 632h3v1h-3zM125 632h3v1h-3zM131 632h3v1h-3zM137 632h3v1h-3zM143 632h3v1h-3zM149 632h3v1h-3zM155 632h3v1h-3zM161 632h3v1h-3zM167 632h3v1h-3zM173 632h3v1h-3zM179 632h3v1h-3zM185 632h3v1h-3zM191 632h3v1h-3zM197 632h3v1h-3zM203 632h3v1h-3zM209 632h3v1h-3zM215 632h3v1h-3zM221 632h3v1h-3zM227 632h3v1h-3zM233 632h3v1h-3zM239 632h3v1h-3zM245 632h3v1h-3zM251 632h3v1h-3zM257 632h3v1h-3zM263 632h3v1h-3zM269 632h3v1h-3zM275 632h3v1h-3zM281 632h3v1h-3zM287 632h3v1h-3zM293 632h3v1h-3zM299 632h3v1h-3zM305 632h3v1h-3zM311 632h3v1h-3zM317 632h3v1h-3zM323 632h3v1h-3zM329 632h3v1h-3zM335 632h3v1h-3zM341 632h3v1h-3zM347 632h3v1h-3zM353 632h3v1h-3zM359 632h3v1h-3zM365 632h3v1h-3zM371 632h3v1h-3zM377 632h3v1h-3zM383 632h3v1h-3zM389 632h3v1h-3zM395 632h3v1h-3zM401 632h3v1h-3zM407 632h3v1h-3zM413 632h3v1h-3zM419 632h3v1h-3zM425 632h3v1h-3zM431 632h3v1h-3zM437 632h3v1h-3zM443 632h3v1h-3zM449 632h3v1h-3zM455 632h3v1h-3zM461 632h3v1h-3zM467 632h3v1h-3zM473 632h3v1h-3zM479 632h3v1h-3zM485 632h3v1h-3zM491 632h3v1h-3zM497 632h3v1h-3zM503 632h3v1h-3zM509 632h3v1h-3zM515 632h3v1h-3zM521 632h3v1h-3zM527 632h3v1h-3zM533 632h3v1h-3zM539 632h3v1h-3zM545 632h3v1h-3zM551 632h3v1h-3zM557 632h3v1h-3zM563 632h3v1h-3zM569 632h3v1h-3zM575 632h3v1h-3zM581 632h3v1h-3zM587 632h3v1h-3zM593 632h3v1h-3zM599 632h3v1h-3zM605 632h3v1h-3zM611 632h3v1h-3zM617 632h3v1h-3zM623 632h3v1h-3zM629 632h3v1h-3zM635 632h3v1h-3zM641 632h3v1h-3zM647 632h3v1h-3zM653 632h3v1h-3zM659 632h3v1h-3zM665 632h3v1h-3zM671 632h3v1h-3zM677 632h3v1h-3zM683 632h3v1h-3zM689 632h3v1h-3zM695 632h3v1h-3zM701 632h3v1h-3zM707 632h3v1h-3zM713 632h3v1h-3zM719 632h3v1h-3zM725 632h3v1h-3zM731 632h3v1h-3zM737 632h3v1h-3zM743 632h3v1h-3zM749 632h3v1h-3zM755 632h3v1h-3zM761 632h3v1h-3zM767 632h3v1h-3zM773 632h3v1h-3zM779 632h3v1h-3zM785 632h3v1h-3zM791 632h3v1h-3zM797 632h3v1h-3zM803 632h3v1h-3zM809 632h3v1h-3zM815 632h3v1h-3zM821 632h3v1h-3zM827 632h3v1h-3zM833 632h3v1h-3zM839 632h3v1h-3zM845 632h3v1h-3zM851 632h3v1h-3zM857 632h3v1h-3zM863 632h3v1h-3zM869 632h3v1h-3zM875 632h3v1h-3zM881 632h3v1h-3zM887 632h3v1h-3zM893 632h3v1h-3zM899 632h3v1h-3zM905 632h3v1h-3zM911 632h3v1h-3zM917 632h3v1h-3zM923 632h3v1h-3zM929 632h3v1h-3zM935 632h3v1h-3zM941 632h3v1h-3zM947 632h3v1h-3zM953 632h3v1h-3zM959 632h3v1h-3zM965 632h3v1h-3zM971 632h3v1h-3zM977 632h3v1h-3zM983 632h3v1h-3zM989 632h3v1h-3zM995 632h3v1h-3zM1001 632h3v1h-3zM1007 632h3v1h-3zM1013 632h3v1h-3zM1019 632h3v1h-3zM1025 632h3v1h-3zM1031 632h3v1h-3zM1037 632h3v1h-3zM1043 632h3v1h-3zM1049 632h3v1h-3zM1055 632h3v1h-3zM1061 632h3v1h-3zM1067 632h3v1h-3zM1073 632h3v1h-3zM1079 632h3v1h-3zM1085 632h3v1h-3zM1091 632h3v1h-3zM1097 632h3v1h-3zM1103 632h3v1h-3zM1109 632h3v1h-3zM1115 632h3v1h-3zM1121 632h3v1h-3zM1127 632h3v1h-3zM1133 632h3v1h-3zM1139 632h3v1h-3zM1145 632h3v1h-3zM1151 632h3v1h-3zM1157 632h3v1h-3zM1163 632h3v1h-3z" fill="#c0c0c0"/>
<path d="M681 598h4v1h-4zM54 598h1v2h-1zM64 598h1v2h-1zM55 599h1v1h-1zM679 599h2v1h-2zM685 599h2v1h-2zM815 599h3v1h-3zM63 599h1v2h-1zM818 599h1v2h-1zM56 600h1v1h-1zM60 600h1v1h-1zM687 600h1v1h-1zM689 600h2v1h-2zM678 600h1v2h-1zM814 600h1v2h-1zM53 600h1v4h-1zM65 600h1v4h-1zM61 601h2v1h-2zM688 601h1v1h-1zM57 601h1v2h-1zM59 601h1v2h-1zM691 601h1v2h-1zM819 601h1v2h-1zM677 602h1v1h-1zM114 602h1v2h-1zM813 602h1v4h-1zM58 603h1v1h-1zM676 603h1v1h-1zM115 603h1v2h-1zM820 603h1v2h-1zM692 603h1v3h-1zM67 604h2v1h-2zM86 604h2v1h-2zM674 604h2v1h-2zM702 604h1v1h-1zM912 604h1v1h-1zM42 604h1v2h-1zM52 604h1v2h-1zM66 604h1v2h-1zM88 604h1v2h-1zM124 604h1v2h-1zM658 604h1v2h-1zM824 604h1v2h-1zM113 604h1v3h-1zM51 605h1v1h-1zM83 605h3v1h-3zM122 605h2v1h-2zM673 605h1v1h-1zM913 605h1v1h-1zM69 605h1v2h-1zM116 605h1v2h-1zM659 605h1v2h-1zM672 605h1v2h-1zM701 605h1v2h-1zM703 605h1v2h-1zM821 605h1v2h-1zM823 605h1v2h-1zM911 605h1v2h-1zM49 606h2v1h-2zM81 606h2v1h-2zM121 606h1v1h-1zM177 606h1v1h-1zM888 606h1v1h-1zM914 606h4v1h-4zM41 606h1v2h-1zM43 606h1v2h-1zM89 606h1v2h-1zM125 606h1v2h-1zM693 606h1v2h-1zM884 606h1v2h-1zM900 606h1v2h-1zM918 606h1v2h-1zM248 606h1v3h-1zM657 606h1v3h-1zM825 606h1v3h-1zM812 606h1v5h-1zM47 607h2v1h-2zM176 607h1v1h-1zM178 607h1v1h-1zM660 607h2v1h-2zM700 607h1v1h-1zM822 607h1v1h-1zM899 607h1v1h-1zM910 607h1v1h-1zM33 607h1v2h-1zM80 607h1v2h-1zM112 607h1v2h-1zM117 607h1v2h-1zM120 607h1v2h-1zM171 607h1v2h-1zM179 607h1v2h-1zM704 607h1v2h-1zM885 607h1v2h-1zM887 607h1v2h-1zM889 607h1v2h-1zM70 607h1v3h-1zM671 607h1v4h-1zM34 608h2v1h-2zM45 608h2v1h-2zM111 608h1v1h-1zM167 608h2v1h-2zM175 608h1v1h-1zM517 608h1v1h-1zM645 608h2v1h-2zM662 608h2v1h-2zM699 608h1v1h-1zM713 608h2v1h-2zM892 608h1v1h-1zM897 608h2v1h-2zM40 608h1v2h-1zM44 608h1v2h-1zM126 608h1v2h-1zM172 608h1v2h-1zM644 608h1v2h-1zM694 608h1v2h-1zM883 608h1v2h-1zM909 608h1v2h-1zM90 608h1v3h-1zM728 608h1v3h-1zM901 608h1v3h-1zM919 608h1v3h-1zM249 608h1v4h-1zM392 608h1v4h-1zM36 609h2v1h-2zM39 609h1v1h-1zM79 609h1v1h-1zM103 609h1v1h-1zM109 609h2v1h-2zM119 609h1v1h-1zM166 609h1v1h-1zM169 609h1v1h-1zM174 609h1v1h-1zM515 609h2v1h-2zM518 609h2v1h-2zM647 609h1v1h-1zM664 609h1v1h-1zM698 609h1v1h-1zM705 609h1v1h-1zM711 609h2v1h-2zM886 609h1v1h-1zM891 609h1v1h-1zM896 609h1v1h-1zM32 609h1v2h-1zM118 609h1v2h-1zM170 609h1v2h-1zM715 609h1v2h-1zM826 609h1v2h-1zM890 609h1v2h-1zM893 609h1v2h-1zM165 609h1v3h-1zM180 609h1v3h-1zM247 609h1v4h-1zM656 609h1v4h-1zM38 610h1v1h-1zM78 610h1v1h-1zM104 610h1v1h-1zM108 610h1v1h-1zM173 610h1v1h-1zM227 610h1v1h-1zM512 610h3v1h-3zM648 610h2v1h-2zM665 610h1v1h-1zM706 610h1v1h-1zM709 610h2v1h-2zM827 610h2v1h-2zM906 610h3v1h-3zM922 610h1v1h-1zM102 610h1v2h-1zM368 610h1v2h-1zM520 610h1v2h-1zM643 610h1v2h-1zM695 610h1v2h-1zM697 610h1v2h-1zM882 610h1v2h-1zM895 610h1v2h-1zM127 610h1v3h-1zM393 610h1v3h-1zM500 610h1v3h-1zM620 610h1v3h-1zM71 610h1v4h-1zM105 611h1v1h-1zM107 611h1v1h-1zM226 611h1v1h-1zM228 611h1v1h-1zM511 611h1v1h-1zM650 611h2v1h-2zM707 611h2v1h-2zM829 611h1v1h-1zM905 611h1v1h-1zM921 611h1v1h-1zM923 611h1v1h-1zM31 611h1v2h-1zM77 611h1v2h-1zM369 611h1v2h-1zM501 611h1v2h-1zM525 611h1v2h-1zM716 611h1v2h-1zM894 611h1v2h-1zM902 611h1v2h-1zM920 611h1v2h-1zM666 611h1v3h-1zM91 611h1v4h-1zM670 611h1v4h-1zM727 611h1v4h-1zM811 611h1v5h-1zM729 611h1v6h-1zM106 612h1v1h-1zM229 612h1v1h-1zM267 612h1v1h-1zM521 612h1v1h-1zM526 612h1v1h-1zM529 612h2v1h-2zM696 612h1v1h-1zM722 612h3v1h-3zM830 612h1v1h-1zM903 612h2v1h-2zM924 612h5v1h-5zM6 612h1v2h-1zM101 612h1v2h-1zM181 612h1v2h-1zM225 612h1v2h-1zM266 612h1v2h-1zM268 612h1v2h-1zM367 612h1v2h-1zM510 612h1v2h-1zM557 612h1v2h-1zM642 612h1v2h-1zM652 612h1v2h-1zM878 612h1v2h-1zM881 612h1v2h-1zM250 612h1v3h-1zM391 612h1v3h-1zM472 612h1v3h-1zM164 612h1v4h-1zM76 613h1v1h-1zM230 613h1v1h-1zM503 613h2v1h-2zM527 613h2v1h-2zM531 613h1v1h-1zM558 613h1v1h-1zM721 613h1v1h-1zM831 613h2v1h-2zM879 613h1v1h-1zM30 613h1v2h-1zM128 613h1v2h-1zM246 613h1v2h-1zM394 613h1v2h-1zM502 613h1v2h-1zM522 613h1v2h-1zM524 613h1v2h-1zM559 613h1v2h-1zM619 613h1v2h-1zM717 613h1v2h-1zM725 613h1v2h-1zM370 613h1v3h-1zM499 613h1v4h-1zM655 613h1v4h-1zM621 613h1v6h-1zM74 614h2v1h-2zM159 614h1v1h-1zM182 614h2v1h-2zM231 614h1v1h-1zM236 614h1v1h-1zM241 614h1v1h-1zM379 614h2v1h-2zM387 614h1v1h-1zM390 614h1v1h-1zM505 614h1v1h-1zM553 614h1v1h-1zM611 614h4v1h-4zM720 614h1v1h-1zM833 614h1v1h-1zM880 614h1v1h-1zM5 614h1v2h-1zM72 614h1v2h-1zM100 614h1v2h-1zM260 614h1v2h-1zM366 614h1v2h-1zM378 614h1v2h-1zM471 614h1v2h-1zM509 614h1v2h-1zM532 614h1v2h-1zM556 614h1v2h-1zM7 614h1v3h-1zM224 614h1v3h-1zM265 614h1v3h-1zM653 614h1v3h-1zM834 614h1v3h-1zM269 614h1v4h-1zM641 614h1v4h-1zM667 614h1v4h-1zM877 614h1v4h-1zM73 615h1v1h-1zM158 615h1v1h-1zM232 615h1v1h-1zM235 615h1v1h-1zM237 615h2v1h-2zM240 615h1v1h-1zM242 615h1v1h-1zM244 615h2v1h-2zM251 615h1v1h-1zM386 615h1v1h-1zM388 615h2v1h-2zM395 615h1v1h-1zM462 615h1v1h-1zM506 615h1v1h-1zM552 615h1v1h-1zM554 615h1v1h-1zM615 615h2v1h-2zM618 615h1v1h-1zM719 615h1v1h-1zM29 615h1v2h-1zM92 615h1v2h-1zM129 615h1v2h-1zM160 615h1v2h-1zM184 615h1v2h-1zM261 615h1v2h-1zM381 615h1v2h-1zM523 615h1v2h-1zM610 615h1v2h-1zM718 615h1v2h-1zM726 615h1v2h-1zM560 615h1v3h-1zM473 615h1v4h-1zM669 615h1v4h-1zM4 616h1v1h-1zM157 616h1v1h-1zM191 616h3v1h-3zM233 616h2v1h-2zM239 616h1v1h-1zM243 616h1v1h-1zM252 616h1v1h-1zM385 616h1v1h-1zM396 616h1v1h-1zM402 616h1v1h-1zM406 616h1v1h-1zM461 616h1v1h-1zM463 616h1v1h-1zM466 616h5v1h-5zM507 616h2v1h-2zM550 616h2v1h-2zM555 616h1v1h-1zM617 616h1v1h-1zM99 616h1v2h-1zM213 616h1v2h-1zM360 616h1v2h-1zM365 616h1v2h-1zM371 616h1v2h-1zM377 616h1v2h-1zM456 616h1v2h-1zM533 616h1v2h-1zM163 616h1v3h-1zM259 616h1v3h-1zM810 616h1v3h-1zM28 617h1v1h-1zM93 617h1v1h-1zM156 617h1v1h-1zM190 617h1v1h-1zM194 617h2v1h-2zM214 617h2v1h-2zM253 617h1v1h-1zM262 617h1v1h-1zM383 617h2v1h-2zM397 617h1v1h-1zM403 617h1v1h-1zM405 617h1v1h-1zM407 617h1v1h-1zM460 617h1v1h-1zM464 617h2v1h-2zM570 617h1v1h-1zM609 617h1v1h-1zM130 617h1v2h-1zM161 617h1v2h-1zM185 617h1v2h-1zM223 617h1v2h-1zM264 617h1v2h-1zM361 617h1v2h-1zM382 617h1v2h-1zM401 617h1v2h-1zM457 617h1v2h-1zM549 617h1v2h-1zM654 617h1v2h-1zM8 617h1v3h-1zM20 617h1v3h-1zM498 617h1v4h-1zM730 617h1v4h-1zM835 617h1v4h-1zM27 618h1v1h-1zM94 618h5v1h-5zM143 618h2v1h-2zM162 618h1v1h-1zM196 618h1v1h-1zM216 618h1v1h-1zM254 618h2v1h-2zM263 618h1v1h-1zM305 618h1v1h-1zM363 618h2v1h-2zM373 618h4v1h-4zM404 618h1v1h-1zM408 618h1v1h-1zM574 618h1v1h-1zM585 618h3v1h-3zM24 618h1v2h-1zM189 618h1v2h-1zM372 618h1v2h-1zM398 618h1v2h-1zM459 618h1v2h-1zM534 618h1v2h-1zM561 618h1v2h-1zM569 618h1v2h-1zM571 618h1v2h-1zM594 618h1v2h-1zM608 618h1v2h-1zM640 618h1v2h-1zM876 618h1v2h-1zM155 618h1v3h-1zM359 618h1v3h-1zM455 618h1v3h-1zM584 618h1v3h-1zM668 618h1v3h-1zM270 618h1v4h-1zM212 618h1v7h-1zM25 619h2v1h-2zM139 619h4v1h-4zM197 619h1v1h-1zM217 619h3v1h-3zM222 619h1v1h-1zM256 619h1v1h-1zM306 619h2v1h-2zM362 619h1v1h-1zM400 619h1v1h-1zM409 619h2v1h-2zM575 619h1v1h-1zM588 619h2v1h-2zM639 619h1v1h-1zM21 619h1v2h-1zM131 619h1v2h-1zM145 619h1v2h-1zM258 619h1v2h-1zM304 619h1v2h-1zM458 619h1v2h-1zM548 619h1v2h-1zM573 619h1v2h-1zM809 619h1v2h-1zM474 619h1v3h-1zM186 619h1v4h-1zM622 619h1v4h-1zM137 620h2v1h-2zM220 620h2v1h-2zM257 620h1v1h-1zM296 620h1v1h-1zM300 620h1v1h-1zM308 620h1v1h-1zM399 620h1v1h-1zM411 620h2v1h-2zM422 620h1v1h-1zM562 620h1v1h-1zM564 620h2v1h-2zM568 620h1v1h-1zM576 620h1v1h-1zM624 620h1v1h-1zM637 620h2v1h-2zM741 620h3v1h-3zM807 620h2v1h-2zM23 620h1v2h-1zM151 620h1v2h-1zM198 620h1v2h-1zM292 620h1v2h-1zM535 620h1v2h-1zM572 620h1v2h-1zM590 620h1v2h-1zM600 620h1v2h-1zM607 620h1v2h-1zM636 620h1v2h-1zM875 620h1v2h-1zM9 620h1v3h-1zM188 620h1v3h-1zM440 620h1v3h-1zM593 620h1v3h-1zM19 620h1v4h-1zM595 620h1v4h-1zM132 621h1v1h-1zM297 621h1v1h-1zM299 621h1v1h-1zM301 621h1v1h-1zM303 621h1v1h-1zM309 621h1v1h-1zM563 621h1v1h-1zM566 621h2v1h-2zM577 621h2v1h-2zM623 621h1v1h-1zM625 621h1v1h-1zM731 621h1v1h-1zM739 621h2v1h-2zM744 621h2v1h-2zM793 621h3v1h-3zM806 621h1v1h-1zM22 621h1v2h-1zM136 621h1v2h-1zM146 621h1v2h-1zM293 621h1v2h-1zM295 621h1v2h-1zM413 621h1v2h-1zM421 621h1v2h-1zM423 621h1v2h-1zM441 621h1v2h-1zM454 621h1v2h-1zM547 621h1v2h-1zM601 621h1v2h-1zM358 621h1v3h-1zM154 621h1v4h-1zM497 621h1v4h-1zM583 621h1v4h-1zM836 621h1v4h-1zM14 622h1v1h-1zM284 622h4v1h-4zM298 622h1v1h-1zM302 622h1v1h-1zM484 622h2v1h-2zM536 622h1v1h-1zM606 622h1v1h-1zM626 622h8v1h-8zM732 622h7v1h-7zM746 622h1v1h-1zM792 622h1v1h-1zM796 622h2v1h-2zM805 622h1v1h-1zM133 622h1v2h-1zM150 622h1v2h-1zM199 622h1v2h-1zM291 622h1v2h-1zM418 622h1v2h-1zM475 622h1v2h-1zM579 622h1v2h-1zM591 622h1v2h-1zM599 622h1v2h-1zM635 622h1v2h-1zM874 622h1v2h-1zM152 622h1v3h-1zM271 622h1v3h-1zM310 622h1v4h-1zM13 623h1v1h-1zM15 623h2v1h-2zM135 623h1v1h-1zM147 623h2v1h-2zM283 623h1v1h-1zM288 623h2v1h-2zM294 623h1v1h-1zM414 623h1v1h-1zM419 623h2v1h-2zM424 623h1v1h-1zM453 623h1v1h-1zM483 623h1v1h-1zM602 623h1v1h-1zM605 623h1v1h-1zM791 623h1v1h-1zM798 623h1v1h-1zM803 623h2v1h-2zM10 623h1v2h-1zM187 623h1v2h-1zM442 623h1v2h-1zM486 623h1v2h-1zM537 623h1v2h-1zM546 623h1v2h-1zM592 623h1v2h-1zM634 623h1v2h-1zM747 623h1v2h-1zM439 623h1v4h-1zM11 624h2v1h-2zM134 624h1v1h-1zM149 624h1v1h-1zM290 624h1v1h-1zM425 624h2v1h-2zM476 624h1v1h-1zM481 624h2v1h-2zM580 624h1v1h-1zM598 624h1v1h-1zM603 624h2v1h-2zM790 624h1v1h-1zM799 624h1v1h-1zM802 624h1v1h-1zM860 624h2v1h-2zM17 624h1v2h-1zM282 624h1v2h-1zM357 624h1v2h-1zM415 624h1v2h-1zM417 624h1v2h-1zM452 624h1v2h-1zM862 624h1v2h-1zM873 624h1v2h-1zM18 624h1v3h-1zM596 624h1v3h-1zM200 624h1v4h-1zM443 625h1v1h-1zM477 625h1v1h-1zM479 625h2v1h-2zM487 625h1v1h-1zM545 625h1v1h-1zM581 625h1v1h-1zM597 625h1v1h-1zM748 625h1v1h-1zM789 625h1v1h-1zM801 625h1v1h-1zM859 625h1v1h-1zM153 625h1v2h-1zM272 625h1v2h-1zM427 625h1v2h-1zM538 625h1v2h-1zM582 625h1v2h-1zM800 625h1v2h-1zM496 625h1v3h-1zM837 625h1v4h-1zM211 625h1v7h-1zM348 626h1v1h-1zM416 626h1v1h-1zM444 626h4v1h-4zM478 626h1v1h-1zM544 626h1v1h-1zM868 626h1v1h-1zM872 626h1v1h-1zM281 626h1v2h-1zM356 626h1v2h-1zM488 626h1v2h-1zM749 626h1v2h-1zM863 626h1v2h-1zM451 626h1v3h-1zM858 626h1v3h-1zM788 626h1v4h-1zM311 626h1v9h-1zM347 627h1v1h-1zM349 627h2v1h-2zM448 627h1v1h-1zM543 627h1v1h-1zM867 627h1v1h-1zM869 627h1v1h-1zM871 627h1v1h-1zM273 627h1v2h-1zM428 627h1v2h-1zM438 627h1v2h-1zM852 627h1v3h-1zM539 627h1v4h-1zM280 628h1v1h-1zM345 628h2v1h-2zM351 628h1v1h-1zM433 628h2v1h-2zM489 628h3v1h-3zM848 628h2v1h-2zM865 628h2v1h-2zM870 628h1v1h-1zM432 628h1v2h-1zM449 628h1v2h-1zM542 628h1v2h-1zM750 628h1v2h-1zM864 628h1v2h-1zM201 628h1v3h-1zM355 628h1v3h-1zM495 628h1v3h-1zM344 629h1v1h-1zM352 629h1v1h-1zM492 629h1v1h-1zM846 629h2v1h-2zM274 629h1v2h-1zM279 629h1v2h-1zM429 629h1v2h-1zM435 629h1v2h-1zM437 629h1v2h-1zM450 629h1v2h-1zM838 629h1v2h-1zM850 629h1v2h-1zM853 629h1v2h-1zM857 629h1v4h-1zM842 630h4v1h-4zM343 630h1v2h-1zM353 630h1v2h-1zM431 630h1v2h-1zM493 630h1v2h-1zM541 630h1v2h-1zM751 630h1v3h-1zM851 630h1v3h-1zM787 630h1v6h-1zM275 631h1v1h-1zM277 631h2v1h-2zM436 631h1v1h-1zM839 631h1v1h-1zM841 631h1v1h-1zM202 631h1v2h-1zM354 631h1v2h-1zM430 631h1v2h-1zM494 631h1v2h-1zM540 631h1v2h-1zM854 631h1v2h-1zM205 632h1v1h-1zM276 632h1v1h-1zM840 632h1v1h-1zM210 632h1v2h-1zM342 632h1v2h-1zM204 633h1v1h-1zM206 633h2v1h-2zM203 633h1v2h-1zM752 633h1v2h-1zM855 633h1v2h-1zM856 633h1v3h-1zM208 634h2v1h-2zM341 634h1v3h-1zM753 635h1v1h-1zM312 635h1v6h-1zM754 636h1v1h-1zM758 636h4v1h-4zM767 636h1v1h-1zM780 636h1v1h-1zM784 636h1v1h-1zM772 636h1v3h-1zM786 636h1v3h-1zM755 637h1v1h-1zM757 637h1v1h-1zM762 637h2v1h-2zM779 637h1v1h-1zM781 637h1v1h-1zM783 637h1v1h-1zM785 637h1v1h-1zM766 637h1v2h-1zM768 637h1v2h-1zM773 637h1v2h-1zM340 637h1v3h-1zM756 638h1v1h-1zM764 638h1v1h-1zM778 638h1v1h-1zM782 638h1v1h-1zM765 639h1v1h-1zM774 639h1v1h-1zM777 639h1v1h-1zM769 639h1v2h-1zM771 639h1v2h-1zM313 640h4v1h-4zM770 640h1v1h-1zM775 640h2v1h-2zM330 640h1v2h-1zM339 640h1v2h-1zM317 641h1v2h-1zM331 641h1v2h-1zM334 642h5v1h-5zM326 642h1v2h-1zM329 642h1v2h-1zM327 643h1v1h-1zM332 643h2v1h-2zM318 643h1v2h-1zM328 644h1v1h-1zM325 644h1v3h-1zM319 645h2v1h-2zM321 646h2v1h-2zM323 647h1v1h-1zM324 647h1v2h-1z" fill="#1e90ff"/>
<rect x="3" y="23" width="1164" height="1" fill="#000000"/>
<rect x="3" y="23" width="1" height="461" fill="#000000"/>
<rect x="3" y="483" width="1164" height="1" fill="#000000"/>
<rect x="3" y="485" width="1164" height="1" fill="#000000"/>
<rect x="3" y="485" width="1" height="85" fill="#000000"/>
<rect x="3" y="569" width="1164" height="1" fill="#000000"/>
<rect x="3" y="571" width="1164" height="1" fill="#000000"/>
<rect x="3" y="571" width="1" height="88" fill="#000000"/>
<rect x="3" y="658" width="1164" height="1" fill="#000000"/>
<rect x="1166" y="23" width="1" height="461" fill="#000000"/>
<rect x="1166" y="485" width="1" height="85" fill="#000000"/>
<rect x="1166" y="571" width="1" height="88" fill="#000000"/>
<rect x="1166" y="161" width="2" height="2" fill="#ff0000"/>
<rect x="1166" y="232" width="2" height="2" fill="#ff0000"/>
<rect x="1166" y="304" width="2" height="2" fill="#ff0000"/>
<rect x="1166" y="372" width="2" height="2" fill="#00ff00"/>
<rect x="1166" y="445" width="2" height="2" fill="#0000ff"/>
<rect x="1167" y="51" width="2" height="1" fill="#000000"/>
<rect x="1167" y="84" width="2" height="1" fill="#000000"/>
<rect x="1167" y="117" width="2" height="1" fill="#000000"/>
<rect x="1167" y="150" width="2" height="1" fill="#000000"/>
<rect x="1167" y="183" width="2" height="1" fill="#000000"/>
<rect x="1167" y="216" width="2" height="1" fill="#000000"/>
<rect x="1167" y="249" width="2" height="1" fill="#000000"/>
<rect x="1167" y="282" width="2" height="1" fill="#000000"/>
<rect x="1167" y="315" width="2" height="1" fill="#000000"/>
<rect x="1167" y="348" width="2" height="1" fill="#000000"/>
<rect x="1167" y="381" width="2" height="1" fill="#000000"/>
<rect x="1167" y="414" width="2" height="1" fill="#000000"/>
<rect x="1167" y="447" width="2" height="1" fill="#000000"/>
<rect x="1167" y="480" width="2" height="1" fill="#000000"/>
<rect x="1167" y="487" width="1" height="1" fill="#000000"/>
<rect x="1167" y="513" width="1" height="1" fill="#000000"/>
<rect x="1167" y="568" width="1" height="1" fill="#000000"/>
<rect x="1167" y="573" width="1" height="1" fill="#000000"/>
<rect x="1167" y="657" width="1" height="1" fill="#000000"/>
<rect x="4" y="659" width="1" height="3" fill="#000000"/>
<rect x="68" y="659" width="1" height="3" fill="#000000"/>
<rect x="132" y="659" width="1" height="3" fill="#000000"/>
<rect x="196" y="659" width="1" height="3" fill="#000000"/>
<rect x="260" y="659" width="1" height="3" fill="#000000"/>
<rect x="324" y="659" width="1" height="3" fill="#000000"/>
<rect x="388" y="659" width="1" height="3" fill="#000000"/>
<rect x="452" y="659" width="1" height="3" fill="#000000"/>
<rect x="516" y="659" width="1" height="3" fill="#000000"/>
<rect x="580" y="659" width="1" height="3" fill="#000000"/>
<rect x="644" y="659" width="1" height="3" fill="#000000"/>
<rect x="708" y="659" width="1" height="3" fill="#000000"/>
<rect x="772" y="659" width="1" height="3" fill="#000000"/>
<rect x="836" y="659" width="1" height="3" fill="#000000"/>
<rect x="900" y="659" width="1" height="3" fill="#000000"/>
</svg>
<svg class="a" style="left:7px;top:30px;" width="7" height="4" viewBox="0 0 7 4" shape-rendering="crispEdges"><path d="M3 0h1v1h1v1h1v1h1v1h-7v-1h1v-1h1v-1h1z" fill="#000"/></svg>
<div class="t" style="left:18.78px;top:25.53px;font-size:10px;line-height:14px;color:#000;-webkit-text-stroke:0.15px;letter-spacing:-0.397px;">EURUSD,H4</div>
<div class="t" style="left:78.74px;top:25.53px;font-size:10px;line-height:14px;color:#000;-webkit-text-stroke:0.15px;letter-spacing:-0.441px;">1.17556</div>
<div class="t" style="left:114.64px;top:25.53px;font-size:10px;line-height:14px;color:#000;-webkit-text-stroke:0.15px;letter-spacing:-0.441px;">1.17556</div>
<div class="t" style="left:150.74px;top:25.53px;font-size:10px;line-height:14px;color:#000;-webkit-text-stroke:0.15px;letter-spacing:-0.433px;">1.17551</div>
<div class="t" style="left:186.74px;top:25.53px;font-size:10px;line-height:14px;color:#000;-webkit-text-stroke:0.15px;letter-spacing:-0.441px;">1.17553</div>
<div class="t" style="left:7.58px;top:488.53px;font-size:10px;line-height:14px;color:#000;-webkit-text-stroke:0.15px;letter-spacing:-0.320px;">MACD(12,26,9)&nbsp;0.000888&nbsp;0.001088</div>
<div class="t" style="left:7.58px;top:574.53px;font-size:10px;line-height:14px;color:#000;-webkit-text-stroke:0.15px;letter-spacing:-0.355px;">RSI(14)&nbsp;54.6571</div>
<div class="t" style="left:1171.84px;top:45.53px;font-size:10px;line-height:14px;color:#000;-webkit-text-stroke:0.15px;letter-spacing:-0.483px;">1.22580</div>
<div class="t" style="left:1171.84px;top:78.53px;font-size:10px;line-height:14px;color:#000;-webkit-text-stroke:0.15px;letter-spacing:-0.483px;">1.22120</div>
<div class="t" style="left:1171.84px;top:111.53px;font-size:10px;line-height:14px;color:#000;-webkit-text-stroke:0.15px;letter-spacing:-0.483px;">1.21650</div>
<div class="t" style="left:1171.84px;top:144.53px;font-size:10px;line-height:14px;color:#000;-webkit-text-stroke:0.15px;letter-spacing:-0.483px;">1.21180</div>
<div class="t" style="left:1171.84px;top:177.53px;font-size:10px;line-height:14px;color:#000;-webkit-text-stroke:0.15px;letter-spacing:-0.483px;">1.20720</div>
<div class="t" style="left:1171.84px;top:210.53px;font-size:10px;line-height:14px;color:#000;-webkit-text-stroke:0.15px;letter-spacing:-0.483px;">1.20250</div>
<div class="t" style="left:1171.84px;top:243.53px;font-size:10px;line-height:14px;color:#000;-webkit-text-stroke:0.15px;letter-spacing:-0.483px;">1.19780</div>
<div class="t" style="left:1171.84px;top:276.53px;font-size:10px;line-height:14px;color:#000;-webkit-text-stroke:0.15px;letter-spacing:-0.483px;">1.19310</div>
<div class="t" style="left:1171.84px;top:309.53px;font-size:10px;line-height:14px;color:#000;-webkit-text-stroke:0.15px;letter-spacing:-0.483px;">1.18850</div>
<div class="t" style="left:1171.84px;top:342.53px;font-size:10px;line-height:14px;color:#000;-webkit-text-stroke:0.15px;letter-spacing:-0.483px;">1.18380</div>
<div class="t" style="left:1171.84px;top:375.53px;font-size:10px;line-height:14px;color:#000;-webkit-text-stroke:0.15px;letter-spacing:-0.483px;">1.17910</div>
<div class="t" style="left:1171.84px;top:408.53px;font-size:10px;line-height:14px;color:#000;-webkit-text-stroke:0.15px;letter-spacing:-0.483px;">1.17450</div>
<div class="t" style="left:1171.84px;top:474.53px;font-size:10px;line-height:14px;color:#000;-webkit-text-stroke:0.15px;letter-spacing:-0.483px;">1.16510</div>
<div class="t" style="left:1169.91px;top:486.53px;font-size:10px;line-height:14px;color:#000;-webkit-text-stroke:0.15px;letter-spacing:-0.514px;">0.003515</div>
<div class="t" style="left:1169.91px;top:507.53px;font-size:10px;line-height:14px;color:#000;-webkit-text-stroke:0.15px;letter-spacing:-0.461px;">0.00</div>
<div class="t" style="left:1169.86px;top:556.53px;font-size:10px;line-height:14px;color:#000;-webkit-text-stroke:0.15px;letter-spacing:-0.433px;">-0.007178</div>
<div class="t" style="left:1170.04px;top:572.53px;font-size:10px;line-height:14px;color:#000;-webkit-text-stroke:0.15px;letter-spacing:-0.716px;">100</div>
<div class="t" style="left:1169.09px;top:592.53px;font-size:10px;line-height:14px;color:#000;-webkit-text-stroke:0.15px;letter-spacing:-0.720px;">70</div>
<div class="t" style="left:1168.92px;top:626.53px;font-size:10px;line-height:14px;color:#000;-webkit-text-stroke:0.15px;letter-spacing:-0.752px;">30</div>
<div class="t" style="left:1169.91px;top:645.53px;font-size:10px;line-height:14px;color:#000;-webkit-text-stroke:0.15px;letter-spacing:0.000px;">0</div>
<div class="a" style="left:1168px;top:156px;width:39px;height:11px;background:#ff0000;"></div>
<div class="t" style="left:1171.84px;top:155.53px;font-size:10px;line-height:14px;color:#fff;-webkit-text-stroke:0.15px;letter-spacing:-0.483px;">1.21010</div>
<div class="a" style="left:1168px;top:227px;width:39px;height:11px;background:#ff0000;"></div>
<div class="t" style="left:1171.84px;top:226.53px;font-size:10px;line-height:14px;color:#fff;-webkit-text-stroke:0.15px;letter-spacing:-0.499px;">1.20004</div>
<div class="a" style="left:1168px;top:299px;width:39px;height:11px;background:#ff0000;"></div>
<div class="t" style="left:1171.84px;top:298.53px;font-size:10px;line-height:14px;color:#fff;-webkit-text-stroke:0.15px;letter-spacing:-0.475px;">1.18998</div>
<div class="a" style="left:1168px;top:367px;width:39px;height:11px;background:#00ff00;"></div>
<div class="t" style="left:1171.84px;top:366.53px;font-size:10px;line-height:14px;color:#fff;-webkit-text-stroke:0.15px;letter-spacing:-0.499px;">1.18024</div>
<div class="a" style="left:1168px;top:402px;width:39px;height:11px;background:#000000;"></div>
<div class="t" style="left:1171.84px;top:401.53px;font-size:10px;line-height:14px;color:#fff;-webkit-text-stroke:0.15px;letter-spacing:-0.474px;">1.17553</div>
<div class="a" style="left:1168px;top:440px;width:39px;height:11px;background:#0000ff;"></div>
<div class="t" style="left:1171.84px;top:439.53px;font-size:10px;line-height:14px;color:#fff;-webkit-text-stroke:0.15px;letter-spacing:-0.464px;">1.17002</div>
<div class="t" style="left:2.64px;top:661.53px;font-size:10px;line-height:14px;color:#000;-webkit-text-stroke:0.15px;letter-spacing:-0.257px;">12&nbsp;May&nbsp;2021</div>
<div class="t" style="left:66.74px;top:661.53px;font-size:10px;line-height:14px;color:#000;-webkit-text-stroke:0.15px;letter-spacing:-0.240px;">19&nbsp;May&nbsp;18:00</div>
<div class="t" style="left:131.20px;top:661.53px;font-size:10px;line-height:14px;color:#000;-webkit-text-stroke:0.15px;letter-spacing:-0.191px;">27&nbsp;May&nbsp;00:00</div>
<div class="t" style="left:195.12px;top:661.53px;font-size:10px;line-height:14px;color:#000;-webkit-text-stroke:0.15px;letter-spacing:-0.429px;">3&nbsp;Jun&nbsp;10:00</div>
<div class="t" style="left:258.94px;top:661.53px;font-size:10px;line-height:14px;color:#000;-webkit-text-stroke:0.15px;letter-spacing:-0.443px;">10&nbsp;Jun&nbsp;18:00</div>
<div class="t" style="left:323.24px;top:661.53px;font-size:10px;line-height:14px;color:#000;-webkit-text-stroke:0.15px;letter-spacing:-0.452px;">18&nbsp;Jun&nbsp;00:00</div>
<div class="t" style="left:387.20px;top:661.53px;font-size:10px;line-height:14px;color:#000;-webkit-text-stroke:0.15px;letter-spacing:-0.421px;">25&nbsp;Jun&nbsp;10:00</div>
<div class="t" style="left:451.00px;top:661.53px;font-size:10px;line-height:14px;color:#000;-webkit-text-stroke:0.15px;letter-spacing:-0.413px;">2&nbsp;Jul&nbsp;18:00</div>
<div class="t" style="left:515.04px;top:661.53px;font-size:10px;line-height:14px;color:#000;-webkit-text-stroke:0.15px;letter-spacing:-0.385px;">10&nbsp;Jul&nbsp;00:00</div>
<div class="t" style="left:579.24px;top:661.53px;font-size:10px;line-height:14px;color:#000;-webkit-text-stroke:0.15px;letter-spacing:-0.430px;">19&nbsp;Jul&nbsp;11:00</div>
<div class="t" style="left:643.20px;top:661.53px;font-size:10px;line-height:14px;color:#000;-webkit-text-stroke:0.15px;letter-spacing:-0.409px;">26&nbsp;Jul&nbsp;19:00</div>
<div class="t" style="left:707.12px;top:661.53px;font-size:10px;line-height:14px;color:#000;-webkit-text-stroke:0.15px;letter-spacing:-0.276px;">3&nbsp;Aug&nbsp;00:00</div>
<div class="t" style="left:770.94px;top:661.53px;font-size:10px;line-height:14px;color:#000;-webkit-text-stroke:0.15px;letter-spacing:-0.295px;">10&nbsp;Aug&nbsp;10:00</div>
<div class="t" style="left:834.64px;top:661.53px;font-size:10px;line-height:14px;color:#000;-webkit-text-stroke:0.15px;letter-spacing:-0.286px;">17&nbsp;Aug&nbsp;18:00</div>
<div class="t" style="left:898.70px;top:661.53px;font-size:10px;line-height:14px;color:#000;-webkit-text-stroke:0.15px;letter-spacing:-0.237px;">25&nbsp;Aug&nbsp;00:00</div>
<div class="a" style="left:7px;top:43px;width:52px;height:25px;background:#0000b0;"></div>
<div class="a" style="left:174px;top:43px;width:52px;height:25px;background:#0000b0;"></div>
<div class="a" style="left:7px;top:67px;width:109px;height:33px;background:#0000b0;"></div>
<div class="a" style="left:118px;top:67px;width:108px;height:33px;background:#0000b0;"></div>
<div class="a" style="left:8px;top:44px;width:50px;height:24px;background-image:linear-gradient(to bottom,rgb(82,82,252),rgb(0,0,172));background-size:1px 57px;background-repeat:repeat-x;background-position:0 -1px;"></div>
<div class="a" style="left:8px;top:68px;width:107px;height:31px;background-image:linear-gradient(to bottom,rgb(82,82,252),rgb(0,0,172));background-size:1px 57px;background-repeat:repeat-x;background-position:0 -25px;"></div>
<div class="a" style="left:175px;top:44px;width:50px;height:24px;background-image:linear-gradient(to bottom,rgb(82,82,252),rgb(0,0,172));background-size:1px 57px;background-repeat:repeat-x;background-position:0 -1px;"></div>
<div class="a" style="left:119px;top:68px;width:106px;height:31px;background-image:linear-gradient(to bottom,rgb(82,82,252),rgb(0,0,172));background-size:1px 57px;background-repeat:repeat-x;background-position:0 -25px;"></div>
<div class="a" style="left:11px;top:66px;width:44px;height:1px;background:#000080;"></div>
<div class="a" style="left:11px;top:67px;width:44px;height:1px;background:#8878ff;"></div>
<div class="a" style="left:178px;top:66px;width:44px;height:1px;background:#000080;"></div>
<div class="a" style="left:178px;top:67px;width:44px;height:1px;background:#8878ff;"></div>
<div class="t" style="left:19.22px;top:46.49px;font-size:13px;line-height:18px;color:#fff;-webkit-text-stroke:0.15px;transform:scaleX(0.8187);">SELL</div>
<div class="t" style="left:187.06px;top:46.49px;font-size:13px;line-height:18px;color:#fff;-webkit-text-stroke:0.15px;transform:scaleX(0.8827);">BUY</div>
<div class="a" style="left:61px;top:43px;width:111px;height:22px;background:#fff;border:1px solid #a9a9a9;box-sizing:border-box;"></div>
<div class="a" style="left:63px;top:45px;width:19px;height:18px;background:linear-gradient(#f3f3f3 0%,#e9e9e9 47%,#d6d6d6 53%,#cbcbcb 100%);border-right:1px solid #b4b4b4;"></div>
<div class="a" style="left:150px;top:45px;width:20px;height:18px;background:linear-gradient(#f3f3f3 0%,#e9e9e9 47%,#d6d6d6 53%,#cbcbcb 100%);border-left:1px solid #b4b4b4;box-sizing:border-box;"></div>
<svg class="a" style="left:69px;top:52px;" width="5" height="3" viewBox="0 0 5 3"><path d="M0 0 L5 0 L2.5 3 Z" fill="#5577b0"/></svg>
<svg class="a" style="left:158px;top:52px;" width="5" height="3" viewBox="0 0 5 3"><path d="M0 3 L5 3 L2.5 0 Z" fill="#5577b0"/></svg>
<div class="t" style="left:122.93px;top:46.17px;font-size:12.5px;line-height:17px;color:#000;-webkit-text-stroke:0.15px;transform:scaleX(0.9801);">3.00</div>
<div class="t" style="left:26.71px;top:83.17px;font-size:12.5px;line-height:17px;color:#fff;font-weight:bold;-webkit-text-stroke:0.15px;transform:scaleX(1.0004);">1.17</div>
<div class="t" style="left:54.94px;top:62.71px;font-size:34px;line-height:43px;color:#fff;transform:scaleX(0.9221);">55</div>
<div class="t" style="left:93.91px;top:68.69px;font-size:11px;line-height:15px;color:#fff;font-weight:bold;-webkit-text-stroke:0.15px;transform:scaleX(1.2224);">6</div>
<div class="t" style="left:137.02px;top:83.17px;font-size:12.5px;line-height:17px;color:#fff;font-weight:bold;-webkit-text-stroke:0.15px;transform:scaleX(0.9873);">1.17</div>
<div class="t" style="left:165.92px;top:62.71px;font-size:34px;line-height:43px;color:#fff;transform:scaleX(0.9381);">56</div>
<div class="t" style="left:204.77px;top:68.69px;font-size:11px;line-height:15px;color:#fff;font-weight:bold;-webkit-text-stroke:0.15px;transform:scaleX(1.2338);">8</div>
<div class="a" style="left:0;top:679px;width:1207px;height:1px;background:#e3e3e3;"></div>
<div class="a" style="left:0;top:680px;width:1207px;height:25px;background:#f0f0f0;"></div>
<div class="a" style="left:0;top:681px;width:1207px;height:1px;background:#000;"></div>
<div class="a" style="left:0;top:680px;width:1207px;height:1px;background:#fcfcfc;"></div>
<div class="a" style="left:0;top:700px;width:1207px;height:1px;background:#f8f8f8;"></div>
<div class="a" style="left:0;top:701px;width:1207px;height:1px;background:#fff;"></div>
<div class="a" style="left:0;top:682px;width:1px;height:18px;background:#696969;"></div>
<div class="a" style="left:4px;top:682px;width:1px;height:18px;background:#fff;"></div>
<div class="a" style="left:5px;top:681px;width:93px;height:19px;background:#fff;border:1px solid #000;border-top:none;box-sizing:border-box;"></div>
<div class="t" style="left:16.83px;top:683.49px;font-size:13px;line-height:18px;color:#000;-webkit-text-stroke:0.15px;letter-spacing:-0.797px;">EURUSD,H4</div>
<div class="t" style="left:108.77px;top:683.49px;font-size:13px;line-height:18px;color:#6d6d6d;-webkit-text-stroke:0.15px;letter-spacing:-0.523px;">AUDUSD,Daily</div>
<div class="t" style="left:211.00px;top:683.49px;font-size:13px;line-height:18px;color:#6d6d6d;-webkit-text-stroke:0.15px;letter-spacing:-0.889px;">USDCHF,H4</div>
<div class="t" style="left:300.00px;top:683.49px;font-size:13px;line-height:18px;color:#6d6d6d;-webkit-text-stroke:0.15px;letter-spacing:-0.625px;">USDCAD,Daily</div>
<div class="t" style="left:403.20px;top:683.49px;font-size:13px;line-height:18px;color:#6d6d6d;-webkit-text-stroke:0.15px;letter-spacing:-0.508px;">USDCNH,Daily</div>
<div class="t" style="left:509.00px;top:683.49px;font-size:13px;line-height:18px;color:#6d6d6d;-webkit-text-stroke:0.15px;letter-spacing:-0.249px;">UKOil,H1</div>
<div class="t" style="left:583.03px;top:683.49px;font-size:13px;line-height:18px;color:#6d6d6d;-webkit-text-stroke:0.15px;letter-spacing:-0.546px;">DJ30,H1</div>
<div class="t" style="left:652.90px;top:683.49px;font-size:13px;line-height:18px;color:#6d6d6d;-webkit-text-stroke:0.15px;letter-spacing:-0.735px;">USDX,H1</div>
<div class="t" style="left:728.21px;top:683.49px;font-size:13px;line-height:18px;color:#6d6d6d;-webkit-text-stroke:0.15px;letter-spacing:-0.648px;">XAUUSD,H1</div>
<div class="t" style="left:820.85px;top:683.49px;font-size:13px;line-height:18px;color:#6d6d6d;-webkit-text-stroke:0.15px;letter-spacing:-0.868px;">GBPUSD,H1</div>
<div class="a" style="left:201px;top:685px;width:1px;height:13px;background:#8c8c8c;"></div>
<div class="a" style="left:289px;top:685px;width:1px;height:13px;background:#8c8c8c;"></div>
<div class="a" style="left:393px;top:685px;width:1px;height:13px;background:#8c8c8c;"></div>
<div class="a" style="left:497px;top:685px;width:1px;height:13px;background:#8c8c8c;"></div>
<div class="a" style="left:573px;top:685px;width:1px;height:13px;background:#8c8c8c;"></div>
<div class="a" style="left:641px;top:685px;width:1px;height:13px;background:#8c8c8c;"></div>
<div class="a" style="left:717px;top:685px;width:1px;height:13px;background:#8c8c8c;"></div>
<div class="a" style="left:809px;top:685px;width:1px;height:13px;background:#8c8c8c;"></div>
<div class="a" style="left:902px;top:685px;width:1px;height:13px;background:#8c8c8c;"></div>
<svg class="a" style="left:1182px;top:687px;" width="4" height="7" viewBox="0 0 4 7"><path d="M4 0 L4 7 L0.3 3.5 Z" fill="#a0a0a0"/></svg>
<svg class="a" style="left:1201px;top:687px;" width="4" height="7" viewBox="0 0 4 7"><path d="M0 0 L0 7 L3.7 3.5 Z" fill="#a0a0a0"/></svg>
</body></html>
